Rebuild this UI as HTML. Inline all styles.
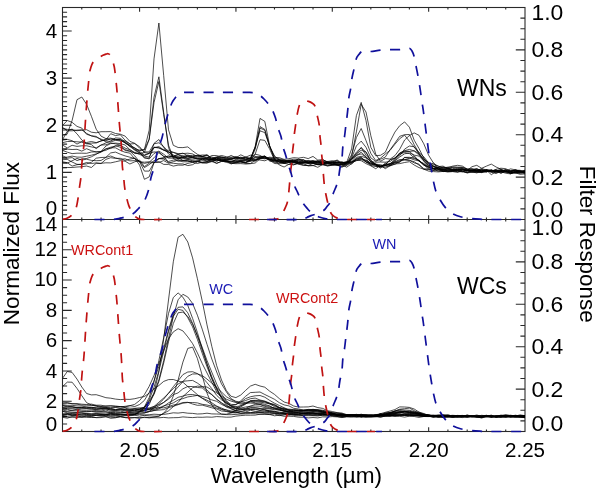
<!DOCTYPE html>
<html><head><meta charset="utf-8"><style>
html,body{margin:0;padding:0;background:#fff;width:600px;height:490px;overflow:hidden}
svg{display:block;will-change:transform}
text{font-family:"Liberation Sans",sans-serif}
</style></head><body>
<svg width="600" height="490" viewBox="0 0 600 490">
<defs><clipPath id="clipAll"><rect x="62.5" y="0" width="462.5" height="490"/></clipPath><clipPath id="clipT"><rect x="62.5" y="7.5" width="462.5" height="212"/></clipPath><clipPath id="clipB"><rect x="62.5" y="219.5" width="462.5" height="212"/></clipPath></defs>
<rect width="600" height="490" fill="#fff"/>
<g fill="none" stroke="#2a2a2a" stroke-width="1.1">
<rect x="62.5" y="7.5" width="462.5" height="424.0"/>
<path d="M62.5 219.5H525.0"/>
<path d="M81.77 7.50L81.77 9.60 M81.77 219.50L81.77 217.40 M81.77 219.50L81.77 221.60 M81.77 431.50L81.77 429.40 M101.04 7.50L101.04 9.60 M101.04 219.50L101.04 217.40 M101.04 219.50L101.04 221.60 M101.04 431.50L101.04 429.40 M120.31 7.50L120.31 9.60 M120.31 219.50L120.31 217.40 M120.31 219.50L120.31 221.60 M120.31 431.50L120.31 429.40 M139.58 7.50L139.58 11.70 M139.58 219.50L139.58 215.30 M139.58 219.50L139.58 223.70 M139.58 431.50L139.58 427.30 M158.85 7.50L158.85 9.60 M158.85 219.50L158.85 217.40 M158.85 219.50L158.85 221.60 M158.85 431.50L158.85 429.40 M178.12 7.50L178.12 9.60 M178.12 219.50L178.12 217.40 M178.12 219.50L178.12 221.60 M178.12 431.50L178.12 429.40 M197.40 7.50L197.40 9.60 M197.40 219.50L197.40 217.40 M197.40 219.50L197.40 221.60 M197.40 431.50L197.40 429.40 M216.67 7.50L216.67 9.60 M216.67 219.50L216.67 217.40 M216.67 219.50L216.67 221.60 M216.67 431.50L216.67 429.40 M235.94 7.50L235.94 11.70 M235.94 219.50L235.94 215.30 M235.94 219.50L235.94 223.70 M235.94 431.50L235.94 427.30 M255.21 7.50L255.21 9.60 M255.21 219.50L255.21 217.40 M255.21 219.50L255.21 221.60 M255.21 431.50L255.21 429.40 M274.48 7.50L274.48 9.60 M274.48 219.50L274.48 217.40 M274.48 219.50L274.48 221.60 M274.48 431.50L274.48 429.40 M293.75 7.50L293.75 9.60 M293.75 219.50L293.75 217.40 M293.75 219.50L293.75 221.60 M293.75 431.50L293.75 429.40 M313.02 7.50L313.02 9.60 M313.02 219.50L313.02 217.40 M313.02 219.50L313.02 221.60 M313.02 431.50L313.02 429.40 M332.29 7.50L332.29 11.70 M332.29 219.50L332.29 215.30 M332.29 219.50L332.29 223.70 M332.29 431.50L332.29 427.30 M351.56 7.50L351.56 9.60 M351.56 219.50L351.56 217.40 M351.56 219.50L351.56 221.60 M351.56 431.50L351.56 429.40 M370.83 7.50L370.83 9.60 M370.83 219.50L370.83 217.40 M370.83 219.50L370.83 221.60 M370.83 431.50L370.83 429.40 M390.10 7.50L390.10 9.60 M390.10 219.50L390.10 217.40 M390.10 219.50L390.10 221.60 M390.10 431.50L390.10 429.40 M409.38 7.50L409.38 9.60 M409.38 219.50L409.38 217.40 M409.38 219.50L409.38 221.60 M409.38 431.50L409.38 429.40 M428.65 7.50L428.65 11.70 M428.65 219.50L428.65 215.30 M428.65 219.50L428.65 223.70 M428.65 431.50L428.65 427.30 M447.92 7.50L447.92 9.60 M447.92 219.50L447.92 217.40 M447.92 219.50L447.92 221.60 M447.92 431.50L447.92 429.40 M467.19 7.50L467.19 9.60 M467.19 219.50L467.19 217.40 M467.19 219.50L467.19 221.60 M467.19 431.50L467.19 429.40 M486.46 7.50L486.46 9.60 M486.46 219.50L486.46 217.40 M486.46 219.50L486.46 221.60 M486.46 431.50L486.46 429.40 M505.73 7.50L505.73 9.60 M505.73 219.50L505.73 217.40 M505.73 219.50L505.73 221.60 M505.73 431.50L505.73 429.40 M62.50 214.79L67.10 214.79 M62.50 210.08L67.10 210.08 M62.50 205.37L67.10 205.37 M62.50 200.66L67.10 200.66 M62.50 195.94L67.10 195.94 M62.50 191.23L67.10 191.23 M62.50 186.52L67.10 186.52 M62.50 181.81L67.10 181.81 M62.50 177.10L67.10 177.10 M62.50 172.39L71.70 172.39 M62.50 167.68L67.10 167.68 M62.50 162.97L67.10 162.97 M62.50 158.26L67.10 158.26 M62.50 153.54L67.10 153.54 M62.50 148.83L67.10 148.83 M62.50 144.12L67.10 144.12 M62.50 139.41L67.10 139.41 M62.50 134.70L67.10 134.70 M62.50 129.99L67.10 129.99 M62.50 125.28L71.70 125.28 M62.50 120.57L67.10 120.57 M62.50 115.86L67.10 115.86 M62.50 111.14L67.10 111.14 M62.50 106.43L67.10 106.43 M62.50 101.72L67.10 101.72 M62.50 97.01L67.10 97.01 M62.50 92.30L67.10 92.30 M62.50 87.59L67.10 87.59 M62.50 82.88L67.10 82.88 M62.50 78.17L71.70 78.17 M62.50 73.46L67.10 73.46 M62.50 68.74L67.10 68.74 M62.50 64.03L67.10 64.03 M62.50 59.32L67.10 59.32 M62.50 54.61L67.10 54.61 M62.50 49.90L67.10 49.90 M62.50 45.19L67.10 45.19 M62.50 40.48L67.10 40.48 M62.50 35.77L67.10 35.77 M62.50 31.06L71.70 31.06 M62.50 26.34L67.10 26.34 M62.50 21.63L67.10 21.63 M62.50 16.92L67.10 16.92 M62.50 12.21L67.10 12.21 M62.50 423.93L67.10 423.93 M62.50 416.36L67.10 416.36 M62.50 408.79L67.10 408.79 M62.50 401.21L71.70 401.21 M62.50 393.64L67.10 393.64 M62.50 386.07L67.10 386.07 M62.50 378.50L67.10 378.50 M62.50 370.93L71.70 370.93 M62.50 363.36L67.10 363.36 M62.50 355.79L67.10 355.79 M62.50 348.21L67.10 348.21 M62.50 340.64L71.70 340.64 M62.50 333.07L67.10 333.07 M62.50 325.50L67.10 325.50 M62.50 317.93L67.10 317.93 M62.50 310.36L71.70 310.36 M62.50 302.79L67.10 302.79 M62.50 295.21L67.10 295.21 M62.50 287.64L67.10 287.64 M62.50 280.07L71.70 280.07 M62.50 272.50L67.10 272.50 M62.50 264.93L67.10 264.93 M62.50 257.36L67.10 257.36 M62.50 249.79L71.70 249.79 M62.50 242.21L67.10 242.21 M62.50 234.64L67.10 234.64 M62.50 227.07L67.10 227.07 M525.00 208.90L520.40 208.90 M525.00 420.90L520.40 420.90 M525.00 198.30L520.40 198.30 M525.00 410.30L520.40 410.30 M525.00 187.70L520.40 187.70 M525.00 399.70L520.40 399.70 M525.00 177.10L515.80 177.10 M525.00 389.10L515.80 389.10 M525.00 166.50L520.40 166.50 M525.00 378.50L520.40 378.50 M525.00 155.90L520.40 155.90 M525.00 367.90L520.40 367.90 M525.00 145.30L520.40 145.30 M525.00 357.30L520.40 357.30 M525.00 134.70L515.80 134.70 M525.00 346.70L515.80 346.70 M525.00 124.10L520.40 124.10 M525.00 336.10L520.40 336.10 M525.00 113.50L520.40 113.50 M525.00 325.50L520.40 325.50 M525.00 102.90L520.40 102.90 M525.00 314.90L520.40 314.90 M525.00 92.30L515.80 92.30 M525.00 304.30L515.80 304.30 M525.00 81.70L520.40 81.70 M525.00 293.70L520.40 293.70 M525.00 71.10L520.40 71.10 M525.00 283.10L520.40 283.10 M525.00 60.50L520.40 60.50 M525.00 272.50L520.40 272.50 M525.00 49.90L515.80 49.90 M525.00 261.90L515.80 261.90 M525.00 39.30L520.40 39.30 M525.00 251.30L520.40 251.30 M525.00 28.70L520.40 28.70 M525.00 240.70L520.40 240.70 M525.00 18.10L520.40 18.10 M525.00 230.10L520.40 230.10"/>
</g>
<g fill="none" stroke="#000" stroke-width="0.7" stroke-linejoin="round">
<g clip-path="url(#clipT)"><path d="M52.9 126.7 57.7 127.0 62.5 128.2 67.3 129.4 72.1 129.6 77.0 130.7 81.8 130.2 86.6 129.7 91.4 132.2 96.2 132.8 101.0 131.7 105.9 131.7 110.7 131.6 115.5 133.5 120.3 134.2 125.1 136.1 129.9 141.4 134.8 143.3 139.6 148.2 144.4 151.9 149.2 151.9 154.0 143.8 158.9 142.8 163.7 146.5 168.5 152.0 173.3 154.9 178.1 158.9 182.9 157.2 187.8 157.0 192.6 157.2 197.4 159.3 202.2 158.5 207.0 159.4 211.8 159.5 216.7 158.0 221.5 160.2 226.3 159.8 231.1 159.2 235.9 161.0 240.8 160.7 245.6 160.7 250.4 160.7 255.2 160.8 260.0 156.9 264.8 155.9 269.7 161.3 274.5 160.5 279.3 161.8 284.1 162.9 288.9 160.3 293.7 161.8 298.6 164.0 303.4 162.8 308.2 162.5 313.0 163.4 317.8 162.8 322.7 163.8 327.5 163.2 332.3 162.7 337.1 165.1 341.9 164.4 346.7 164.7 351.6 161.1 356.4 155.6 361.2 152.2 366.0 156.8 370.8 161.7 375.7 164.0 380.5 166.5 385.3 164.4 390.1 159.7 394.9 158.3 399.7 153.0 404.6 151.2 409.4 151.4 414.2 155.7 419.0 161.1 423.8 164.8 428.6 167.1 433.5 166.6 438.3 169.3 443.1 169.5 447.9 169.0 452.7 169.7 457.6 170.0 462.4 171.1 467.2 170.1 472.0 170.7 476.8 169.2 481.6 169.9 486.5 170.8 491.3 170.2 496.1 171.5 500.9 170.2 505.7 171.4 510.5 171.0 515.4 173.1 520.2 171.6 525.0 173.9 529.8 174.4 534.6 172.8"/><path d="M52.9 130.3 57.7 129.4 62.5 127.4 67.3 130.8 72.1 130.8 77.0 130.1 81.8 129.9 86.6 133.4 91.4 135.9 96.2 137.2 101.0 139.0 105.9 141.9 110.7 142.0 115.5 140.3 120.3 141.0 125.1 140.9 129.9 144.0 134.8 143.6 139.6 146.7 144.4 152.6 149.2 153.2 154.0 147.2 158.9 147.8 163.7 150.1 168.5 151.7 173.3 156.2 178.1 154.4 182.9 157.3 187.8 155.0 192.6 156.8 197.4 155.4 202.2 156.3 207.0 158.2 211.8 155.5 216.7 155.6 221.5 157.3 226.3 157.8 231.1 157.9 235.9 158.9 240.8 157.1 245.6 159.1 250.4 158.8 255.2 159.1 260.0 157.9 264.8 158.9 269.7 157.7 274.5 160.2 279.3 159.6 284.1 160.9 288.9 161.9 293.7 161.8 298.6 162.4 303.4 162.1 308.2 162.8 313.0 163.0 317.8 164.4 322.7 164.1 327.5 161.9 332.3 164.6 337.1 165.3 341.9 164.2 346.7 163.0 351.6 164.1 356.4 158.4 361.2 157.1 366.0 161.8 370.8 163.5 375.7 166.3 380.5 166.7 385.3 167.4 390.1 165.3 394.9 164.4 399.7 161.3 404.6 159.6 409.4 158.4 414.2 156.6 419.0 161.1 423.8 163.5 428.6 166.8 433.5 169.0 438.3 170.2 443.1 169.5 447.9 170.7 452.7 170.7 457.6 170.6 462.4 169.5 467.2 170.1 472.0 170.5 476.8 171.5 481.6 172.5 486.5 170.1 491.3 170.2 496.1 171.4 500.9 170.8 505.7 170.6 510.5 170.7 515.4 170.7 520.2 172.2 525.0 170.2 529.8 173.2 534.6 171.1"/><path d="M52.9 131.4 57.7 130.1 62.5 125.5 67.3 120.5 72.1 122.3 77.0 126.4 81.8 128.1 86.6 134.3 91.4 135.8 96.2 136.4 101.0 139.9 105.9 140.8 110.7 138.8 115.5 139.2 120.3 140.6 125.1 142.7 129.9 146.6 134.8 149.8 139.6 150.1 144.4 149.7 149.2 130.2 154.0 58.9 158.9 23.0 163.7 75.7 168.5 129.8 173.3 145.3 178.1 147.5 182.9 147.6 187.8 146.9 192.6 150.9 197.4 154.3 202.2 156.3 207.0 155.4 211.8 159.7 216.7 158.1 221.5 159.8 226.3 160.5 231.1 162.7 235.9 162.4 240.8 161.3 245.6 162.3 250.4 160.3 255.2 146.6 260.0 118.4 264.8 121.4 269.7 146.0 274.5 159.5 279.3 165.0 284.1 167.0 288.9 164.3 293.7 162.6 298.6 164.1 303.4 165.5 308.2 165.4 313.0 163.5 317.8 164.7 322.7 164.9 327.5 165.2 332.3 165.3 337.1 164.6 341.9 164.7 346.7 162.4 351.6 148.9 356.4 115.5 361.2 102.4 366.0 120.6 370.8 147.3 375.7 155.7 380.5 155.3 385.3 152.3 390.1 141.5 394.9 132.1 399.7 125.7 404.6 121.9 409.4 127.2 414.2 140.2 419.0 148.5 423.8 158.1 428.6 164.0 433.5 168.4 438.3 169.0 443.1 169.6 447.9 168.5 452.7 169.6 457.6 170.1 462.4 168.7 467.2 171.0 472.0 171.1 476.8 172.7 481.6 169.4 486.5 170.2 491.3 170.4 496.1 170.9 500.9 171.6 505.7 171.7 510.5 172.4 515.4 172.5 520.2 172.4 525.0 171.1 529.8 172.3 534.6 173.1"/><path d="M52.9 135.3 57.7 136.7 62.5 135.3 67.3 133.8 72.1 120.5 77.0 99.7 81.8 97.0 86.6 104.3 91.4 116.3 96.2 129.2 101.0 136.1 105.9 138.6 110.7 138.1 115.5 139.7 120.3 139.3 125.1 143.1 129.9 145.3 134.8 150.4 139.6 152.8 144.4 157.5 149.2 159.0 154.0 153.5 158.9 151.1 163.7 154.2 168.5 158.1 173.3 158.2 178.1 157.6 182.9 160.3 187.8 160.6 192.6 161.8 197.4 160.7 202.2 162.6 207.0 162.8 211.8 160.6 216.7 163.2 221.5 161.5 226.3 161.3 231.1 163.0 235.9 163.0 240.8 161.4 245.6 163.6 250.4 163.7 255.2 163.0 260.0 158.8 264.8 157.4 269.7 160.1 274.5 163.5 279.3 163.8 284.1 163.4 288.9 162.5 293.7 162.9 298.6 162.4 303.4 162.3 308.2 162.8 313.0 162.5 317.8 162.5 322.7 163.0 327.5 162.7 332.3 161.5 337.1 163.0 341.9 163.8 346.7 165.1 351.6 158.8 356.4 152.1 361.2 147.7 366.0 152.1 370.8 160.3 375.7 164.9 380.5 167.2 385.3 165.3 390.1 164.0 394.9 159.4 399.7 153.1 404.6 150.6 409.4 149.4 414.2 150.9 419.0 153.6 423.8 158.7 428.6 164.1 433.5 165.8 438.3 168.9 443.1 167.4 447.9 167.9 452.7 168.1 457.6 170.0 462.4 169.1 467.2 170.0 472.0 170.5 476.8 170.6 481.6 171.8 486.5 172.1 491.3 170.0 496.1 171.2 500.9 171.0 505.7 170.4 510.5 173.4 515.4 172.6 520.2 171.8 525.0 171.8 529.8 172.8 534.6 171.5"/><path d="M52.9 137.2 57.7 139.6 62.5 140.2 67.3 139.4 72.1 140.7 77.0 144.1 81.8 141.6 86.6 142.5 91.4 141.5 96.2 142.6 101.0 141.0 105.9 139.8 110.7 133.7 115.5 135.6 120.3 134.7 125.1 140.3 129.9 143.8 134.8 149.4 139.6 152.6 144.4 158.1 149.2 158.2 154.0 143.4 158.9 139.5 163.7 147.6 168.5 153.9 173.3 156.5 178.1 157.2 182.9 157.8 187.8 158.2 192.6 157.8 197.4 158.6 202.2 159.0 207.0 157.8 211.8 156.9 216.7 159.5 221.5 158.0 226.3 158.8 231.1 159.2 235.9 157.4 240.8 159.0 245.6 157.0 250.4 158.2 255.2 147.8 260.0 130.8 264.8 132.6 269.7 146.1 274.5 156.8 279.3 158.8 284.1 160.0 288.9 161.3 293.7 160.4 298.6 160.4 303.4 159.7 308.2 161.8 313.0 161.1 317.8 163.2 322.7 161.1 327.5 163.2 332.3 164.3 337.1 162.9 341.9 161.9 346.7 163.9 351.6 158.1 356.4 145.9 361.2 141.1 366.0 147.3 370.8 157.8 375.7 161.3 380.5 159.2 385.3 157.1 390.1 149.7 394.9 143.1 399.7 136.3 404.6 134.7 409.4 134.5 414.2 144.7 419.0 153.1 423.8 161.0 428.6 165.8 433.5 168.4 438.3 167.7 443.1 171.2 447.9 172.0 452.7 171.6 457.6 172.1 462.4 170.1 467.2 170.2 472.0 172.2 476.8 172.8 481.6 171.9 486.5 170.2 491.3 174.7 496.1 171.4 500.9 173.2 505.7 171.2 510.5 173.5 515.4 172.9 520.2 174.3 525.0 173.9 529.8 171.6 534.6 172.3"/><path d="M52.9 140.5 57.7 141.3 62.5 142.7 67.3 141.5 72.1 141.4 77.0 141.8 81.8 142.1 86.6 143.8 91.4 143.1 96.2 143.0 101.0 140.9 105.9 139.1 110.7 139.9 115.5 139.7 120.3 139.5 125.1 142.7 129.9 146.2 134.8 148.1 139.6 150.7 144.4 149.6 149.2 139.1 154.0 97.3 158.9 76.8 163.7 112.5 168.5 147.5 173.3 158.4 178.1 161.3 182.9 160.6 187.8 160.9 192.6 162.4 197.4 161.0 202.2 162.5 207.0 161.8 211.8 161.5 216.7 163.4 221.5 161.2 226.3 161.1 231.1 161.5 235.9 161.8 240.8 161.9 245.6 162.6 250.4 160.4 255.2 149.2 260.0 126.6 264.8 129.4 269.7 146.3 274.5 158.7 279.3 162.4 284.1 163.2 288.9 162.4 293.7 164.8 298.6 162.8 303.4 163.1 308.2 163.2 313.0 163.3 317.8 164.7 322.7 164.6 327.5 164.0 332.3 164.6 337.1 165.1 341.9 167.0 346.7 164.1 351.6 156.4 356.4 131.8 361.2 104.3 366.0 112.0 370.8 135.6 375.7 154.1 380.5 161.3 385.3 158.5 390.1 159.1 394.9 155.7 399.7 149.3 404.6 140.0 409.4 135.5 414.2 132.9 419.0 135.3 423.8 143.8 428.6 155.2 433.5 163.1 438.3 169.1 443.1 171.1 447.9 171.1 452.7 171.5 457.6 171.9 462.4 171.1 467.2 172.9 472.0 172.2 476.8 171.4 481.6 171.5 486.5 171.0 491.3 171.8 496.1 172.5 500.9 171.8 505.7 173.2 510.5 173.9 515.4 171.6 520.2 172.3 525.0 171.9 529.8 174.0 534.6 172.6"/><path d="M52.9 143.2 57.7 142.5 62.5 139.7 67.3 131.2 72.1 129.0 77.0 133.8 81.8 140.0 86.6 143.5 91.4 144.6 96.2 148.6 101.0 145.1 105.9 142.9 110.7 141.1 115.5 137.9 120.3 138.3 125.1 141.8 129.9 145.5 134.8 147.8 139.6 151.6 144.4 154.9 149.2 153.3 154.0 147.4 158.9 147.9 163.7 150.2 168.5 152.4 173.3 152.3 178.1 154.3 182.9 153.1 187.8 155.9 192.6 155.4 197.4 155.8 202.2 155.0 207.0 155.1 211.8 158.0 216.7 157.7 221.5 156.8 226.3 158.1 231.1 159.3 235.9 157.0 240.8 157.8 245.6 158.0 250.4 159.2 255.2 157.1 260.0 157.3 264.8 156.3 269.7 159.7 274.5 160.6 279.3 160.0 284.1 161.2 288.9 160.0 293.7 160.7 298.6 162.2 303.4 161.4 308.2 162.0 313.0 161.0 317.8 162.8 322.7 162.9 327.5 161.5 332.3 160.7 337.1 161.2 341.9 163.4 346.7 163.0 351.6 159.2 356.4 155.3 361.2 153.9 366.0 157.1 370.8 161.8 375.7 165.3 380.5 166.2 385.3 164.6 390.1 159.8 394.9 157.8 399.7 154.0 404.6 152.5 409.4 153.6 414.2 157.8 419.0 160.7 423.8 165.3 428.6 167.0 433.5 168.9 438.3 167.3 443.1 168.9 447.9 170.0 452.7 169.8 457.6 169.9 462.4 169.2 467.2 171.8 472.0 171.5 476.8 171.1 481.6 168.3 486.5 170.2 491.3 171.5 496.1 170.9 500.9 169.8 505.7 172.4 510.5 172.8 515.4 171.4 520.2 172.4 525.0 172.5 529.8 173.9 534.6 171.6"/><path d="M52.9 143.6 57.7 144.9 62.5 145.0 67.3 147.9 72.1 145.3 77.0 146.4 81.8 145.8 86.6 145.8 91.4 146.9 96.2 147.9 101.0 145.0 105.9 144.8 110.7 143.0 115.5 143.8 120.3 145.2 125.1 150.7 129.9 151.1 134.8 155.9 139.6 161.9 144.4 171.1 149.2 171.1 154.0 162.8 158.9 158.6 163.7 158.4 168.5 157.4 173.3 156.5 178.1 158.3 182.9 156.2 187.8 158.5 192.6 157.0 197.4 157.7 202.2 158.3 207.0 158.4 211.8 159.2 216.7 159.6 221.5 161.0 226.3 159.7 231.1 158.1 235.9 158.3 240.8 159.0 245.6 159.7 250.4 161.0 255.2 157.5 260.0 156.4 264.8 156.6 269.7 159.2 274.5 160.3 279.3 161.3 284.1 161.1 288.9 162.2 293.7 161.5 298.6 158.8 303.4 161.3 308.2 161.6 313.0 160.8 317.8 161.0 322.7 163.3 327.5 162.7 332.3 161.9 337.1 162.9 341.9 163.4 346.7 161.9 351.6 162.4 356.4 157.3 361.2 156.3 366.0 157.8 370.8 165.6 375.7 166.4 380.5 166.8 385.3 165.5 390.1 164.7 394.9 162.1 399.7 162.5 404.6 157.4 409.4 157.3 414.2 158.6 419.0 160.0 423.8 164.8 428.6 169.0 433.5 169.1 438.3 171.3 443.1 170.9 447.9 170.1 452.7 170.4 457.6 169.1 462.4 171.1 467.2 172.6 472.0 171.9 476.8 172.1 481.6 172.6 486.5 170.9 491.3 172.2 496.1 173.6 500.9 171.0 505.7 171.9 510.5 171.5 515.4 171.9 520.2 171.4 525.0 172.2 529.8 171.0 534.6 172.0"/><path d="M52.9 147.6 57.7 147.9 62.5 150.1 67.3 149.1 72.1 149.5 77.0 149.3 81.8 151.1 86.6 148.7 91.4 150.7 96.2 152.0 101.0 151.7 105.9 148.9 110.7 147.2 115.5 146.2 120.3 145.2 125.1 148.1 129.9 149.8 134.8 153.3 139.6 153.6 144.4 152.4 149.2 139.3 154.0 102.7 158.9 81.5 163.7 114.5 168.5 145.2 173.3 157.5 178.1 158.6 182.9 158.2 187.8 159.2 192.6 159.2 197.4 158.7 202.2 160.4 207.0 159.8 211.8 158.7 216.7 158.2 221.5 158.5 226.3 160.2 231.1 158.9 235.9 157.6 240.8 158.1 245.6 159.0 250.4 158.7 255.2 146.7 260.0 128.1 264.8 130.2 269.7 146.8 274.5 155.9 279.3 160.5 284.1 160.2 288.9 162.2 293.7 161.1 298.6 162.9 303.4 162.8 308.2 160.4 313.0 162.4 317.8 164.0 322.7 163.7 327.5 163.5 332.3 162.8 337.1 164.7 341.9 166.0 346.7 163.1 351.6 154.9 356.4 137.5 361.2 128.5 366.0 140.5 370.8 153.3 375.7 160.5 380.5 158.2 385.3 154.0 390.1 150.3 394.9 144.3 399.7 138.7 404.6 135.2 409.4 141.3 414.2 147.0 419.0 153.9 423.8 159.9 428.6 165.2 433.5 166.6 438.3 168.3 443.1 168.3 447.9 168.8 452.7 170.1 457.6 169.1 462.4 168.3 467.2 170.4 472.0 169.8 476.8 169.1 481.6 171.0 486.5 169.9 491.3 171.4 496.1 169.3 500.9 168.2 505.7 168.7 510.5 171.2 515.4 170.4 520.2 171.2 525.0 171.4 529.8 170.0 534.6 173.2"/><path d="M52.9 149.6 57.7 151.3 62.5 150.4 67.3 152.2 72.1 153.6 77.0 153.2 81.8 153.2 86.6 153.3 91.4 152.0 96.2 151.8 101.0 151.6 105.9 146.0 110.7 143.6 115.5 143.1 120.3 143.6 125.1 145.0 129.9 149.7 134.8 152.5 139.6 154.5 144.4 156.1 149.2 157.1 154.0 147.7 158.9 146.6 163.7 149.9 168.5 150.3 173.3 152.4 178.1 153.6 182.9 153.6 187.8 153.2 192.6 153.9 197.4 156.6 202.2 156.6 207.0 157.3 211.8 159.6 216.7 159.6 221.5 160.9 226.3 162.4 231.1 163.3 235.9 163.7 240.8 163.6 245.6 164.0 250.4 163.5 255.2 160.3 260.0 158.4 264.8 157.7 269.7 159.5 274.5 161.4 279.3 159.9 284.1 163.0 288.9 161.2 293.7 162.2 298.6 159.8 303.4 159.8 308.2 163.4 313.0 162.3 317.8 160.9 322.7 161.1 327.5 161.4 332.3 162.6 337.1 162.4 341.9 162.4 346.7 162.8 351.6 158.2 356.4 153.7 361.2 147.5 366.0 155.2 370.8 160.3 375.7 164.8 380.5 166.2 385.3 164.3 390.1 163.9 394.9 160.3 399.7 155.8 404.6 149.1 409.4 146.0 414.2 146.8 419.0 152.4 423.8 156.8 428.6 162.8 433.5 166.3 438.3 167.3 443.1 167.1 447.9 167.6 452.7 166.1 457.6 165.3 462.4 166.1 467.2 169.0 472.0 168.5 476.8 170.7 481.6 170.2 486.5 171.7 491.3 170.6 496.1 170.8 500.9 171.8 505.7 169.4 510.5 171.3 515.4 170.0 520.2 171.0 525.0 172.8 529.8 172.7 534.6 172.0"/><path d="M52.9 153.3 57.7 154.3 62.5 155.7 67.3 158.2 72.1 157.6 77.0 160.6 81.8 158.9 86.6 158.5 91.4 156.8 96.2 154.3 101.0 151.4 105.9 150.3 110.7 147.8 115.5 147.8 120.3 150.4 125.1 152.3 129.9 153.1 134.8 159.0 139.6 161.4 144.4 167.6 149.2 164.7 154.0 160.7 158.9 158.7 163.7 157.5 168.5 155.8 173.3 157.0 178.1 156.6 182.9 157.7 187.8 156.1 192.6 156.9 197.4 155.7 202.2 156.6 207.0 154.7 211.8 158.5 216.7 156.8 221.5 155.5 226.3 156.7 231.1 157.2 235.9 156.6 240.8 158.3 245.6 157.2 250.4 155.2 255.2 156.4 260.0 157.9 264.8 158.3 269.7 159.4 274.5 159.3 279.3 161.9 284.1 162.3 288.9 161.2 293.7 161.7 298.6 163.6 303.4 164.9 308.2 165.8 313.0 165.5 317.8 167.3 322.7 164.4 327.5 166.1 332.3 165.1 337.1 163.9 341.9 164.8 346.7 167.2 351.6 163.7 356.4 160.0 361.2 160.7 366.0 163.6 370.8 165.8 375.7 168.7 380.5 165.5 385.3 168.7 390.1 165.7 394.9 162.5 399.7 160.4 404.6 159.3 409.4 160.2 414.2 162.9 419.0 164.1 423.8 169.6 428.6 168.9 433.5 170.5 438.3 170.0 443.1 170.2 447.9 171.5 452.7 171.3 457.6 169.7 462.4 169.9 467.2 170.4 472.0 166.7 476.8 165.3 481.6 168.3 486.5 166.1 491.3 164.1 496.1 167.0 500.9 169.1 505.7 171.0 510.5 172.5 515.4 172.8 520.2 173.6 525.0 172.5 529.8 173.9 534.6 174.1"/><path d="M52.9 157.3 57.7 156.4 62.5 157.6 67.3 157.1 72.1 156.1 77.0 157.1 81.8 157.2 86.6 156.2 91.4 155.2 96.2 153.9 101.0 152.2 105.9 148.9 110.7 148.5 115.5 145.6 120.3 147.3 125.1 149.6 129.9 151.3 134.8 153.0 139.6 153.1 144.4 155.5 149.2 153.5 154.0 151.9 158.9 152.3 163.7 156.1 168.5 162.7 173.3 163.3 178.1 163.8 182.9 163.9 187.8 165.6 192.6 164.7 197.4 161.8 202.2 163.0 207.0 163.0 211.8 161.6 216.7 159.9 221.5 160.7 226.3 161.6 231.1 161.1 235.9 160.5 240.8 161.8 245.6 162.3 250.4 160.1 255.2 154.1 260.0 139.7 264.8 140.4 269.7 149.2 274.5 160.0 279.3 161.2 284.1 161.5 288.9 160.9 293.7 160.3 298.6 161.9 303.4 162.3 308.2 163.2 313.0 162.5 317.8 161.2 322.7 161.9 327.5 163.3 332.3 162.8 337.1 162.6 341.9 162.3 346.7 163.0 351.6 159.5 356.4 154.1 361.2 150.2 366.0 152.0 370.8 161.7 375.7 162.2 380.5 162.0 385.3 162.2 390.1 161.5 394.9 158.3 399.7 154.6 404.6 151.2 409.4 151.4 414.2 150.9 419.0 155.1 423.8 159.2 428.6 162.4 433.5 164.6 438.3 165.9 443.1 168.2 447.9 167.1 452.7 167.2 457.6 167.4 462.4 167.4 467.2 169.2 472.0 169.4 476.8 168.6 481.6 171.1 486.5 169.7 491.3 170.6 496.1 170.7 500.9 172.3 505.7 171.6 510.5 171.0 515.4 170.2 520.2 170.3 525.0 171.7 529.8 172.0 534.6 172.9"/><path d="M52.9 158.3 57.7 159.8 62.5 159.7 67.3 159.4 72.1 162.0 77.0 164.3 81.8 164.5 86.6 163.9 91.4 162.3 96.2 158.2 101.0 157.5 105.9 157.3 110.7 152.9 115.5 152.1 120.3 154.2 125.1 155.9 129.9 157.2 134.8 158.5 139.6 165.1 144.4 179.3 149.2 176.9 154.0 162.8 158.9 158.6 163.7 159.1 168.5 161.5 173.3 160.1 178.1 159.8 182.9 160.6 187.8 159.4 192.6 160.8 197.4 161.5 202.2 159.2 207.0 160.1 211.8 160.7 216.7 160.1 221.5 160.1 226.3 161.0 231.1 164.0 235.9 162.3 240.8 162.1 245.6 162.6 250.4 161.3 255.2 159.6 260.0 160.0 264.8 160.8 269.7 158.7 274.5 162.0 279.3 163.0 284.1 161.6 288.9 161.4 293.7 162.6 298.6 161.1 303.4 162.4 308.2 162.9 313.0 161.8 317.8 161.4 322.7 163.2 327.5 162.5 332.3 163.2 337.1 160.5 341.9 164.5 346.7 162.4 351.6 162.8 356.4 160.4 361.2 158.6 366.0 160.7 370.8 162.9 375.7 165.1 380.5 166.2 385.3 165.6 390.1 163.4 394.9 161.8 399.7 159.5 404.6 160.1 409.4 160.4 414.2 161.7 419.0 165.1 423.8 168.6 428.6 169.5 433.5 170.5 438.3 167.7 443.1 170.4 447.9 168.5 452.7 169.3 457.6 168.3 462.4 169.2 467.2 170.5 472.0 170.7 476.8 170.6 481.6 170.6 486.5 171.5 491.3 171.1 496.1 169.6 500.9 173.2 505.7 171.3 510.5 172.7 515.4 171.7 520.2 171.1 525.0 172.2 529.8 171.5 534.6 174.1"/><path d="M52.9 160.2 57.7 162.5 62.5 161.8 67.3 162.7 72.1 166.1 77.0 164.7 81.8 164.2 86.6 162.5 91.4 163.5 96.2 162.9 101.0 163.6 105.9 159.4 110.7 157.7 115.5 158.4 120.3 158.3 125.1 160.5 129.9 159.1 134.8 158.2 139.6 161.6 144.4 163.4 149.2 162.3 154.0 157.8 158.9 152.6 163.7 156.5 168.5 156.7 173.3 156.1 178.1 154.9 182.9 155.8 187.8 156.2 192.6 157.7 197.4 158.6 202.2 157.6 207.0 158.7 211.8 159.7 216.7 160.0 221.5 159.6 226.3 161.4 231.1 161.2 235.9 161.9 240.8 160.2 245.6 160.3 250.4 158.7 255.2 161.2 260.0 157.9 264.8 156.7 269.7 160.4 274.5 162.2 279.3 160.8 284.1 163.2 288.9 164.4 293.7 164.8 298.6 163.4 303.4 163.7 308.2 165.7 313.0 165.6 317.8 164.1 322.7 164.2 327.5 165.6 332.3 164.4 337.1 164.6 341.9 167.1 346.7 165.4 351.6 162.6 356.4 159.0 361.2 158.7 366.0 160.2 370.8 163.2 375.7 164.1 380.5 168.3 385.3 162.9 390.1 165.5 394.9 160.9 399.7 157.0 404.6 153.8 409.4 152.9 414.2 155.1 419.0 156.1 423.8 161.1 428.6 166.3 433.5 163.0 438.3 166.6 443.1 166.1 447.9 169.3 452.7 167.1 457.6 167.2 462.4 167.4 467.2 169.2 472.0 170.6 476.8 169.8 481.6 172.1 486.5 171.7 491.3 170.1 496.1 171.4 500.9 170.7 505.7 170.9 510.5 168.9 515.4 169.8 520.2 171.4 525.0 170.3 529.8 172.5 534.6 172.2"/><path d="M52.9 163.1 57.7 164.6 62.5 162.8 67.3 163.1 72.1 160.8 77.0 158.4 81.8 160.1 86.6 159.2 91.4 160.4 96.2 160.7 101.0 160.5 105.9 157.4 110.7 156.0 115.5 157.9 120.3 159.4 125.1 158.8 129.9 160.9 134.8 160.6 139.6 161.8 144.4 162.2 149.2 161.8 154.0 162.2 158.9 161.7 163.7 164.4 168.5 164.4 173.3 166.1 178.1 165.1 182.9 165.2 187.8 163.4 192.6 162.3 197.4 163.5 202.2 162.2 207.0 161.6 211.8 159.1 216.7 157.4 221.5 157.5 226.3 158.1 231.1 155.4 235.9 157.8 240.8 154.8 245.6 157.2 250.4 159.6 255.2 154.1 260.0 155.4 264.8 158.3 269.7 157.2 274.5 157.8 279.3 157.6 284.1 159.4 288.9 158.7 293.7 157.7 298.6 158.1 303.4 157.3 308.2 158.6 313.0 156.4 317.8 160.1 322.7 159.6 327.5 162.3 332.3 162.1 337.1 160.0 341.9 162.8 346.7 161.6 351.6 161.6 356.4 160.7 361.2 159.5 366.0 161.8 370.8 164.2 375.7 164.2 380.5 164.7 385.3 166.0 390.1 165.9 394.9 163.9 399.7 163.6 404.6 162.5 409.4 161.7 414.2 165.0 419.0 167.6 423.8 169.2 428.6 171.1 433.5 171.6 438.3 171.9 443.1 171.4 447.9 171.6 452.7 170.5 457.6 171.8 462.4 171.7 467.2 172.8 472.0 169.9 476.8 171.2 481.6 170.0 486.5 171.1 491.3 170.5 496.1 172.4 500.9 171.5 505.7 169.6 510.5 173.7 515.4 171.4 520.2 170.9 525.0 172.4 529.8 172.1 534.6 171.7"/><path d="M52.9 167.4 57.7 166.3 62.5 167.7 67.3 167.5 72.1 167.5 77.0 167.0 81.8 166.7 86.6 166.0 91.4 167.5 96.2 163.3 101.0 163.3 105.9 162.8 110.7 162.9 115.5 161.8 120.3 160.7 125.1 161.2 129.9 164.0 134.8 161.8 139.6 160.1 144.4 166.6 149.2 163.2 154.0 162.4 158.9 162.4 163.7 160.6 168.5 163.2 173.3 161.7 178.1 160.2 182.9 161.8 187.8 161.8 192.6 161.0 197.4 161.4 202.2 159.0 207.0 161.4 211.8 159.3 216.7 161.4 221.5 159.1 226.3 159.7 231.1 162.1 235.9 159.2 240.8 160.4 245.6 159.9 250.4 157.8 255.2 160.0 260.0 158.7 264.8 156.2 269.7 158.9 274.5 158.2 279.3 159.8 284.1 161.2 288.9 160.5 293.7 159.2 298.6 159.6 303.4 160.7 308.2 160.8 313.0 161.1 317.8 161.9 322.7 159.6 327.5 162.0 332.3 163.6 337.1 163.2 341.9 162.3 346.7 162.5 351.6 162.0 356.4 159.4 361.2 157.5 366.0 162.1 370.8 165.0 375.7 164.4 380.5 166.3 385.3 165.3 390.1 163.8 394.9 163.1 399.7 161.6 404.6 157.4 409.4 158.0 414.2 159.9 419.0 160.9 423.8 164.0 428.6 167.8 433.5 168.3 438.3 169.4 443.1 171.7 447.9 170.0 452.7 170.3 457.6 170.5 462.4 171.9 467.2 170.6 472.0 170.4 476.8 170.3 481.6 171.7 486.5 169.9 491.3 172.0 496.1 171.0 500.9 169.5 505.7 171.7 510.5 171.6 515.4 170.0 520.2 171.7 525.0 171.7 529.8 171.2 534.6 170.4"/></g>
<g clip-path="url(#clipB)"><path d="M52.9 396.7 57.7 388.3 62.5 378.3 67.3 371.5 72.1 372.4 77.0 379.1 81.8 387.0 86.6 393.5 91.4 394.9 96.2 394.7 101.0 396.1 105.9 397.7 110.7 398.2 115.5 399.1 120.3 399.6 125.1 399.3 129.9 399.4 134.8 398.7 139.6 397.5 144.4 396.5 149.2 393.2 154.0 388.9 158.9 385.5 163.7 381.4 168.5 379.6 173.3 379.5 178.1 381.1 182.9 382.2 187.8 386.6 192.6 390.5 197.4 394.6 202.2 398.3 207.0 401.5 211.8 404.8 216.7 406.4 221.5 409.1 226.3 409.8 231.1 411.0 235.9 411.1 240.8 411.5 245.6 410.1 250.4 409.5 255.2 409.4 260.0 410.6 264.8 409.7 269.7 410.9 274.5 411.6 279.3 412.1 284.1 412.7 288.9 412.8 293.7 413.7 298.6 413.6 303.4 413.0 308.2 413.0 313.0 413.4 317.8 413.7 322.7 414.1 327.5 414.2 332.3 414.1 337.1 415.6 341.9 414.7 346.7 415.2 351.6 416.0 356.4 415.5 361.2 416.6 366.0 416.7 370.8 416.5 375.7 416.0 380.5 415.9 385.3 415.8 390.1 415.2 394.9 415.9 399.7 414.5 404.6 415.3 409.4 415.1 414.2 415.3 419.0 416.0 423.8 416.5 428.6 416.6 433.5 416.3 438.3 416.1 443.1 416.1 447.9 416.9 452.7 416.8 457.6 416.9 462.4 416.2 467.2 417.4 472.0 415.9 476.8 416.7 481.6 416.9 486.5 416.4 491.3 416.1 496.1 416.4 500.9 416.1 505.7 416.5 510.5 416.0 515.4 416.0 520.2 416.7 525.0 416.0 529.8 416.6 534.6 416.6"/><path d="M52.9 401.8 57.7 395.2 62.5 386.6 67.3 382.1 72.1 382.2 77.0 388.4 81.8 395.7 86.6 402.7 91.4 404.9 96.2 406.1 101.0 407.6 105.9 407.4 110.7 408.7 115.5 407.5 120.3 408.3 125.1 408.0 129.9 409.6 134.8 408.8 139.6 409.4 144.4 409.1 149.2 409.9 154.0 409.5 158.9 407.6 163.7 407.9 168.5 406.5 173.3 405.0 178.1 404.2 182.9 402.5 187.8 402.3 192.6 404.0 197.4 405.3 202.2 405.1 207.0 406.4 211.8 407.8 216.7 409.0 221.5 411.0 226.3 411.5 231.1 412.7 235.9 412.9 240.8 411.6 245.6 412.0 250.4 410.3 255.2 411.3 260.0 411.8 264.8 411.5 269.7 411.5 274.5 412.5 279.3 413.8 284.1 413.4 288.9 413.2 293.7 414.2 298.6 414.3 303.4 413.5 308.2 413.9 313.0 414.5 317.8 414.3 322.7 414.7 327.5 414.6 332.3 415.0 337.1 414.8 341.9 415.2 346.7 416.4 351.6 415.6 356.4 415.4 361.2 415.7 366.0 415.4 370.8 416.2 375.7 416.3 380.5 415.3 385.3 416.0 390.1 416.2 394.9 414.5 399.7 415.1 404.6 414.8 409.4 415.5 414.2 415.7 419.0 416.0 423.8 416.0 428.6 416.0 433.5 417.3 438.3 416.0 443.1 416.9 447.9 416.9 452.7 416.1 457.6 416.4 462.4 417.1 467.2 415.6 472.0 416.8 476.8 416.3 481.6 416.3 486.5 415.8 491.3 416.7 496.1 416.0 500.9 416.8 505.7 416.0 510.5 416.8 515.4 416.6 520.2 415.6 525.0 416.4 529.8 416.5 534.6 415.5"/><path d="M52.9 409.9 57.7 410.6 62.5 410.0 67.3 411.1 72.1 410.2 77.0 410.3 81.8 411.3 86.6 411.5 91.4 411.3 96.2 411.5 101.0 412.1 105.9 411.6 110.7 412.9 115.5 412.4 120.3 412.5 125.1 412.6 129.9 412.5 134.8 413.1 139.6 411.7 144.4 409.9 149.2 404.6 154.0 393.1 158.9 371.8 163.7 338.9 168.5 300.0 173.3 261.8 178.1 237.3 182.9 234.3 187.8 242.0 192.6 257.9 197.4 278.7 202.2 300.9 207.0 324.9 211.8 346.4 216.7 365.7 221.5 380.0 226.3 390.5 231.1 396.3 235.9 397.6 240.8 395.0 245.6 390.4 250.4 386.1 255.2 384.3 260.0 386.0 264.8 387.2 269.7 391.2 274.5 394.4 279.3 398.6 284.1 402.0 288.9 403.4 293.7 406.0 298.6 407.1 303.4 407.0 308.2 406.9 313.0 406.0 317.8 407.6 322.7 408.4 327.5 410.7 332.3 411.5 337.1 412.6 341.9 413.0 346.7 414.8 351.6 414.6 356.4 415.0 361.2 415.8 366.0 415.3 370.8 415.3 375.7 415.8 380.5 413.7 385.3 412.3 390.1 411.0 394.9 409.6 399.7 406.9 404.6 407.0 409.4 407.4 414.2 409.0 419.0 412.1 423.8 413.5 428.6 415.4 433.5 416.1 438.3 416.4 443.1 416.5 447.9 416.0 452.7 416.4 457.6 416.5 462.4 416.5 467.2 416.2 472.0 416.7 476.8 416.5 481.6 416.3 486.5 416.4 491.3 416.2 496.1 416.4 500.9 415.1 505.7 415.4 510.5 415.8 515.4 416.0 520.2 414.9 525.0 415.7 529.8 415.8 534.6 415.6"/><path d="M52.9 413.9 57.7 413.6 62.5 414.4 67.3 413.6 72.1 415.1 77.0 414.5 81.8 415.4 86.6 414.3 91.4 415.4 96.2 415.4 101.0 415.1 105.9 415.1 110.7 416.3 115.5 416.1 120.3 416.6 125.1 415.8 129.9 415.5 134.8 414.5 139.6 412.2 144.4 406.9 149.2 397.5 154.0 381.8 158.9 360.4 163.7 337.5 168.5 313.5 173.3 297.5 178.1 292.9 182.9 297.2 187.8 305.5 192.6 318.4 197.4 332.5 202.2 348.4 207.0 363.6 211.8 376.7 216.7 387.9 221.5 396.9 226.3 401.5 231.1 404.4 235.9 404.6 240.8 402.0 245.6 398.6 250.4 396.8 255.2 395.8 260.0 395.5 264.8 397.2 269.7 400.4 274.5 403.2 279.3 405.5 284.1 407.7 288.9 409.8 293.7 410.0 298.6 410.9 303.4 410.9 308.2 409.9 313.0 410.9 317.8 411.1 322.7 411.6 327.5 412.7 332.3 414.3 337.1 415.1 341.9 416.2 346.7 415.5 351.6 416.2 356.4 417.1 361.2 416.6 366.0 416.2 370.8 416.1 375.7 415.0 380.5 414.4 385.3 414.1 390.1 412.3 394.9 411.2 399.7 409.2 404.6 408.7 409.4 408.1 414.2 410.6 419.0 413.3 423.8 414.2 428.6 415.0 433.5 416.3 438.3 416.4 443.1 416.3 447.9 416.1 452.7 416.3 457.6 416.7 462.4 415.9 467.2 416.5 472.0 416.5 476.8 416.9 481.6 416.7 486.5 416.0 491.3 417.1 496.1 416.4 500.9 416.0 505.7 416.6 510.5 416.3 515.4 416.9 520.2 415.8 525.0 415.9 529.8 416.3 534.6 417.3"/><path d="M52.9 406.5 57.7 405.9 62.5 405.8 67.3 406.8 72.1 406.7 77.0 407.8 81.8 407.9 86.6 408.2 91.4 408.3 96.2 409.5 101.0 408.7 105.9 408.8 110.7 410.2 115.5 410.6 120.3 410.1 125.1 410.7 129.9 411.4 134.8 409.7 139.6 409.0 144.4 407.0 149.2 401.1 154.0 393.3 158.9 379.9 163.7 360.5 168.5 338.6 173.3 316.5 178.1 299.8 182.9 294.3 187.8 297.0 192.6 303.5 197.4 315.2 202.2 329.1 207.0 344.3 211.8 359.0 216.7 372.0 221.5 383.9 226.3 391.7 231.1 398.7 235.9 401.3 240.8 402.1 245.6 400.5 250.4 398.7 255.2 398.1 260.0 400.0 264.8 401.1 269.7 403.1 274.5 405.3 279.3 407.5 284.1 408.6 288.9 410.5 293.7 410.3 298.6 410.5 303.4 410.7 308.2 410.8 313.0 411.1 317.8 410.1 322.7 412.4 327.5 412.1 332.3 413.6 337.1 414.9 341.9 415.9 346.7 415.4 351.6 415.4 356.4 416.7 361.2 416.5 366.0 415.9 370.8 416.1 375.7 415.0 380.5 415.6 385.3 414.2 390.1 413.8 394.9 411.0 399.7 411.3 404.6 411.6 409.4 411.2 414.2 412.3 419.0 412.8 423.8 415.1 428.6 415.9 433.5 416.1 438.3 415.9 443.1 416.7 447.9 416.2 452.7 416.4 457.6 416.8 462.4 416.6 467.2 416.5 472.0 416.9 476.8 415.9 481.6 417.1 486.5 415.9 491.3 415.9 496.1 416.4 500.9 416.7 505.7 416.4 510.5 416.0 515.4 415.9 520.2 416.0 525.0 415.7 529.8 416.3 534.6 415.9"/><path d="M52.9 416.8 57.7 415.7 62.5 416.0 67.3 416.2 72.1 415.4 77.0 415.6 81.8 417.2 86.6 415.8 91.4 416.5 96.2 415.3 101.0 414.6 105.9 415.9 110.7 415.6 115.5 415.7 120.3 415.3 125.1 415.2 129.9 414.6 134.8 414.7 139.6 411.4 144.4 408.2 149.2 399.8 154.0 387.3 158.9 370.7 163.7 351.5 168.5 331.6 173.3 316.3 178.1 309.3 182.9 310.4 187.8 317.7 192.6 326.9 197.4 339.4 202.2 353.2 207.0 366.8 211.8 378.7 216.7 389.7 221.5 397.8 226.3 403.6 231.1 406.2 235.9 408.5 240.8 405.5 245.6 403.5 250.4 401.0 255.2 400.5 260.0 401.4 264.8 401.9 269.7 403.8 274.5 405.2 279.3 408.1 284.1 408.3 288.9 409.9 293.7 410.6 298.6 410.7 303.4 410.4 308.2 410.2 313.0 409.9 317.8 410.1 322.7 411.1 327.5 412.8 332.3 413.4 337.1 414.7 341.9 414.9 346.7 414.6 351.6 415.4 356.4 416.0 361.2 416.6 366.0 416.4 370.8 416.4 375.7 414.9 380.5 415.0 385.3 413.6 390.1 412.7 394.9 411.1 399.7 409.5 404.6 410.0 409.4 410.3 414.2 411.6 419.0 412.2 423.8 414.3 428.6 415.2 433.5 415.9 438.3 416.2 443.1 415.5 447.9 414.6 452.7 416.3 457.6 415.4 462.4 415.8 467.2 416.4 472.0 416.1 476.8 416.1 481.6 416.3 486.5 415.2 491.3 416.9 496.1 415.9 500.9 416.0 505.7 416.4 510.5 416.1 515.4 415.8 520.2 416.2 525.0 416.1 529.8 416.0 534.6 417.3"/><path d="M52.9 401.3 57.7 401.3 62.5 402.2 67.3 402.5 72.1 403.9 77.0 403.6 81.8 404.2 86.6 404.5 91.4 404.1 96.2 405.2 101.0 405.2 105.9 406.3 110.7 405.8 115.5 406.0 120.3 406.6 125.1 406.9 129.9 405.7 134.8 406.5 139.6 404.5 144.4 400.4 149.2 392.4 154.0 380.8 158.9 366.3 163.7 348.5 168.5 329.9 173.3 314.2 178.1 307.3 182.9 306.9 187.8 312.8 192.6 323.4 197.4 335.9 202.2 350.2 207.0 364.1 211.8 378.5 216.7 388.7 221.5 398.3 226.3 405.0 231.1 408.6 235.9 410.5 240.8 410.0 245.6 408.4 250.4 406.2 255.2 404.4 260.0 404.4 264.8 405.6 269.7 406.4 274.5 408.4 279.3 409.4 284.1 410.2 288.9 411.4 293.7 411.4 298.6 410.6 303.4 410.3 308.2 410.2 313.0 409.3 317.8 410.0 322.7 410.2 327.5 411.7 332.3 412.8 337.1 413.4 341.9 414.2 346.7 415.0 351.6 415.2 356.4 414.9 361.2 415.0 366.0 414.8 370.8 416.2 375.7 415.5 380.5 415.1 385.3 414.2 390.1 413.7 394.9 412.9 399.7 411.7 404.6 411.8 409.4 412.8 414.2 412.6 419.0 413.9 423.8 415.7 428.6 415.9 433.5 416.9 438.3 416.2 443.1 416.9 447.9 417.1 452.7 416.9 457.6 417.0 462.4 416.5 467.2 416.5 472.0 416.5 476.8 416.7 481.6 418.1 486.5 416.3 491.3 417.2 496.1 416.1 500.9 415.7 505.7 416.0 510.5 416.3 515.4 416.1 520.2 416.0 525.0 416.2 529.8 416.2 534.6 416.3"/><path d="M52.9 407.5 57.7 408.2 62.5 407.9 67.3 408.6 72.1 408.6 77.0 408.9 81.8 408.7 86.6 408.7 91.4 409.1 96.2 409.7 101.0 409.9 105.9 408.9 110.7 410.0 115.5 410.1 120.3 409.5 125.1 409.9 129.9 410.4 134.8 410.8 139.6 408.8 144.4 407.5 149.2 402.7 154.0 394.4 158.9 381.4 163.7 363.0 168.5 341.8 173.3 323.6 178.1 312.8 182.9 312.1 187.8 316.5 192.6 324.2 197.4 335.7 202.2 347.4 207.0 360.5 211.8 372.2 216.7 384.1 221.5 393.8 226.3 400.6 231.1 406.0 235.9 406.6 240.8 405.9 245.6 403.6 250.4 402.0 255.2 401.5 260.0 402.1 264.8 402.9 269.7 403.9 274.5 406.6 279.3 407.9 284.1 409.6 288.9 409.1 293.7 409.6 298.6 409.7 303.4 410.3 308.2 409.4 313.0 409.5 317.8 409.8 322.7 410.7 327.5 411.3 332.3 412.7 337.1 412.9 341.9 413.8 346.7 414.5 351.6 414.7 356.4 415.1 361.2 414.6 366.0 415.1 370.8 414.8 375.7 414.9 380.5 414.9 385.3 413.1 390.1 413.0 394.9 411.2 399.7 410.5 404.6 411.2 409.4 411.3 414.2 412.2 419.0 413.6 423.8 414.9 428.6 414.9 433.5 415.9 438.3 415.8 443.1 416.3 447.9 416.1 452.7 416.6 457.6 416.3 462.4 416.0 467.2 416.3 472.0 416.6 476.8 416.9 481.6 416.4 486.5 416.3 491.3 416.6 496.1 416.9 500.9 416.3 505.7 415.4 510.5 416.7 515.4 416.5 520.2 416.5 525.0 417.9 529.8 416.7 534.6 417.1"/><path d="M52.9 406.4 57.7 407.2 62.5 407.5 67.3 407.3 72.1 407.2 77.0 407.6 81.8 407.4 86.6 408.1 91.4 407.6 96.2 407.2 101.0 406.7 105.9 407.3 110.7 407.6 115.5 407.1 120.3 406.9 125.1 406.3 129.9 405.7 134.8 404.3 139.6 400.5 144.4 394.7 149.2 386.3 154.0 375.5 158.9 363.3 163.7 350.8 168.5 338.8 173.3 331.9 178.1 328.7 182.9 330.9 187.8 336.9 192.6 343.6 197.4 352.9 202.2 363.5 207.0 373.0 211.8 382.3 216.7 391.9 221.5 397.5 226.3 402.8 231.1 406.0 235.9 407.3 240.8 408.0 245.6 407.0 250.4 406.2 255.2 406.0 260.0 406.2 264.8 407.6 269.7 408.4 274.5 408.9 279.3 410.2 284.1 410.9 288.9 412.4 293.7 412.1 298.6 411.8 303.4 411.2 308.2 411.2 313.0 410.5 317.8 411.3 322.7 412.0 327.5 412.9 332.3 413.5 337.1 414.8 341.9 414.7 346.7 415.4 351.6 415.8 356.4 416.0 361.2 415.8 366.0 415.6 370.8 415.6 375.7 415.6 380.5 415.0 385.3 414.6 390.1 413.2 394.9 412.9 399.7 413.1 404.6 411.4 409.4 412.3 414.2 413.7 419.0 414.4 423.8 415.7 428.6 415.0 433.5 416.1 438.3 417.3 443.1 416.3 447.9 416.8 452.7 415.7 457.6 417.0 462.4 417.6 467.2 416.5 472.0 416.6 476.8 416.6 481.6 417.4 486.5 416.2 491.3 415.6 496.1 417.2 500.9 415.8 505.7 416.6 510.5 415.2 515.4 416.0 520.2 416.3 525.0 415.7 529.8 415.9 534.6 416.4"/><path d="M52.9 414.8 57.7 415.3 62.5 415.8 67.3 414.1 72.1 415.1 77.0 415.2 81.8 414.8 86.6 415.6 91.4 415.5 96.2 415.1 101.0 415.0 105.9 414.7 110.7 414.2 115.5 414.9 120.3 414.5 125.1 414.7 129.9 415.7 134.8 415.3 139.6 416.1 144.4 415.4 149.2 415.9 154.0 416.1 158.9 416.2 163.7 413.1 168.5 407.7 173.3 396.0 178.1 380.0 182.9 362.1 187.8 348.4 192.6 347.1 197.4 358.5 202.2 375.3 207.0 393.0 211.8 405.0 216.7 411.2 221.5 414.1 226.3 414.2 231.1 413.0 235.9 409.9 240.8 406.8 245.6 404.2 250.4 400.6 255.2 400.3 260.0 400.5 264.8 401.5 269.7 403.4 274.5 404.4 279.3 407.4 284.1 409.9 288.9 410.2 293.7 412.0 298.6 412.6 303.4 414.2 308.2 412.6 313.0 413.0 317.8 413.2 322.7 413.5 327.5 413.7 332.3 414.9 337.1 414.8 341.9 415.8 346.7 415.8 351.6 415.3 356.4 415.6 361.2 416.4 366.0 415.6 370.8 415.8 375.7 415.9 380.5 415.0 385.3 414.9 390.1 414.8 394.9 413.9 399.7 412.1 404.6 413.4 409.4 412.8 414.2 413.2 419.0 413.8 423.8 415.3 428.6 415.3 433.5 415.4 438.3 415.3 443.1 416.1 447.9 416.4 452.7 415.5 457.6 415.5 462.4 415.9 467.2 416.4 472.0 416.0 476.8 416.1 481.6 415.9 486.5 416.9 491.3 416.3 496.1 416.5 500.9 417.0 505.7 416.4 510.5 416.5 515.4 416.8 520.2 416.5 525.0 417.4 529.8 416.8 534.6 416.6"/><path d="M52.9 412.9 57.7 412.7 62.5 413.8 67.3 414.1 72.1 413.4 77.0 413.4 81.8 412.8 86.6 413.6 91.4 414.3 96.2 413.7 101.0 414.5 105.9 414.9 110.7 413.2 115.5 414.3 120.3 414.2 125.1 414.3 129.9 413.6 134.8 414.0 139.6 413.1 144.4 413.1 149.2 411.5 154.0 407.6 158.9 403.7 163.7 399.1 168.5 393.2 173.3 386.7 178.1 380.8 182.9 374.6 187.8 372.0 192.6 371.7 197.4 373.6 202.2 377.2 207.0 382.7 211.8 388.6 216.7 395.4 221.5 399.8 226.3 402.7 231.1 405.6 235.9 404.6 240.8 400.8 245.6 396.3 250.4 392.6 255.2 392.3 260.0 392.0 264.8 394.5 269.7 396.9 274.5 399.3 279.3 402.7 284.1 404.9 288.9 405.9 293.7 408.3 298.6 409.0 303.4 410.0 308.2 410.0 313.0 410.3 317.8 410.6 322.7 411.6 327.5 412.4 332.3 413.1 337.1 414.3 341.9 415.1 346.7 415.5 351.6 414.9 356.4 415.2 361.2 414.9 366.0 414.9 370.8 415.4 375.7 414.8 380.5 415.3 385.3 412.9 390.1 412.6 394.9 412.3 399.7 412.0 404.6 411.1 409.4 412.5 414.2 412.8 419.0 413.2 423.8 414.5 428.6 415.5 433.5 415.2 438.3 416.3 443.1 415.8 447.9 416.2 452.7 416.3 457.6 415.7 462.4 416.4 467.2 415.0 472.0 416.1 476.8 415.0 481.6 416.3 486.5 415.6 491.3 416.4 496.1 416.4 500.9 415.7 505.7 415.5 510.5 416.3 515.4 415.2 520.2 416.1 525.0 415.7 529.8 415.5 534.6 415.4"/><path d="M52.9 405.8 57.7 404.6 62.5 405.4 67.3 406.2 72.1 406.8 77.0 407.5 81.8 407.6 86.6 407.1 91.4 407.9 96.2 408.6 101.0 408.6 105.9 408.0 110.7 409.2 115.5 409.7 120.3 409.1 125.1 409.7 129.9 410.0 134.8 410.4 139.6 410.8 144.4 410.4 149.2 409.5 154.0 408.2 158.9 405.8 163.7 402.4 168.5 398.1 173.3 392.5 178.1 387.0 182.9 381.6 187.8 376.3 192.6 374.0 197.4 373.9 202.2 375.5 207.0 379.1 211.8 383.1 216.7 387.4 221.5 392.0 226.3 396.7 231.1 399.5 235.9 402.0 240.8 403.1 245.6 402.4 250.4 401.3 255.2 402.9 260.0 403.2 264.8 404.4 269.7 405.9 274.5 408.6 279.3 408.8 284.1 411.0 288.9 412.1 293.7 412.8 298.6 412.7 303.4 413.0 308.2 413.2 313.0 412.8 317.8 413.9 322.7 414.5 327.5 414.2 332.3 414.8 337.1 415.1 341.9 416.4 346.7 415.6 351.6 416.0 356.4 415.5 361.2 416.8 366.0 416.1 370.8 416.2 375.7 416.5 380.5 415.7 385.3 414.3 390.1 414.2 394.9 413.5 399.7 412.1 404.6 411.8 409.4 412.0 414.2 413.5 419.0 414.0 423.8 414.2 428.6 415.5 433.5 415.9 438.3 415.3 443.1 415.1 447.9 416.3 452.7 417.0 457.6 416.5 462.4 416.3 467.2 415.9 472.0 415.5 476.8 415.9 481.6 416.1 486.5 415.8 491.3 416.3 496.1 415.8 500.9 416.1 505.7 414.6 510.5 415.5 515.4 416.2 520.2 416.3 525.0 416.0 529.8 416.6 534.6 416.2"/><path d="M52.9 411.4 57.7 410.8 62.5 411.5 67.3 411.7 72.1 412.1 77.0 412.1 81.8 411.8 86.6 411.9 91.4 411.4 96.2 412.3 101.0 411.7 105.9 412.2 110.7 412.4 115.5 413.4 120.3 413.1 125.1 412.3 129.9 412.0 134.8 412.3 139.6 411.4 144.4 410.8 149.2 409.0 154.0 406.5 158.9 402.2 163.7 398.0 168.5 393.4 173.3 388.6 178.1 384.0 182.9 381.3 187.8 380.8 192.6 380.4 197.4 383.1 202.2 386.5 207.0 390.0 211.8 394.6 216.7 399.4 221.5 403.1 226.3 406.9 231.1 408.9 235.9 410.7 240.8 408.9 245.6 409.5 250.4 407.5 255.2 407.9 260.0 408.3 264.8 408.5 269.7 409.0 274.5 409.7 279.3 410.0 284.1 411.4 288.9 411.6 293.7 412.5 298.6 411.8 303.4 411.9 308.2 412.0 313.0 411.8 317.8 412.1 322.7 412.4 327.5 412.8 332.3 413.8 337.1 414.4 341.9 414.1 346.7 415.5 351.6 415.2 356.4 414.3 361.2 416.4 366.0 415.5 370.8 414.9 375.7 415.9 380.5 413.8 385.3 415.7 390.1 413.4 394.9 412.8 399.7 412.7 404.6 413.1 409.4 413.2 414.2 414.4 419.0 414.4 423.8 416.0 428.6 416.2 433.5 415.9 438.3 417.0 443.1 416.7 447.9 416.4 452.7 417.1 457.6 416.0 462.4 416.4 467.2 417.2 472.0 416.5 476.8 416.9 481.6 416.8 486.5 416.5 491.3 416.8 496.1 416.1 500.9 416.8 505.7 416.1 510.5 416.5 515.4 416.1 520.2 416.8 525.0 416.7 529.8 417.0 534.6 416.2"/><path d="M52.9 416.7 57.7 416.2 62.5 416.6 67.3 417.1 72.1 417.3 77.0 417.0 81.8 417.2 86.6 416.6 91.4 416.8 96.2 417.7 101.0 417.6 105.9 416.7 110.7 417.2 115.5 417.5 120.3 416.8 125.1 417.6 129.9 417.6 134.8 417.7 139.6 418.4 144.4 417.1 149.2 417.8 154.0 417.0 158.9 416.1 163.7 413.4 168.5 410.8 173.3 406.7 178.1 402.5 182.9 396.5 187.8 392.2 192.6 387.7 197.4 386.1 202.2 386.6 207.0 387.0 211.8 390.0 216.7 392.8 221.5 396.1 226.3 399.2 231.1 401.1 235.9 402.5 240.8 404.2 245.6 403.0 250.4 403.1 255.2 403.3 260.0 404.5 264.8 406.4 269.7 407.6 274.5 407.6 279.3 409.5 284.1 411.2 288.9 411.2 293.7 411.9 298.6 412.7 303.4 412.9 308.2 412.5 313.0 411.7 317.8 412.1 322.7 412.6 327.5 412.8 332.3 413.1 337.1 414.8 341.9 414.3 346.7 414.8 351.6 415.1 356.4 414.9 361.2 414.8 366.0 414.9 370.8 415.4 375.7 414.9 380.5 413.6 385.3 414.7 390.1 414.5 394.9 413.2 399.7 412.7 404.6 412.7 409.4 413.6 414.2 413.1 419.0 414.5 423.8 415.2 428.6 415.4 433.5 415.4 438.3 415.2 443.1 415.3 447.9 415.7 452.7 415.3 457.6 415.7 462.4 415.4 467.2 416.5 472.0 416.6 476.8 415.6 481.6 416.7 486.5 416.2 491.3 416.2 496.1 416.4 500.9 416.4 505.7 415.7 510.5 417.5 515.4 416.0 520.2 415.4 525.0 416.5 529.8 416.6 534.6 416.3"/><path d="M52.9 403.2 57.7 404.9 62.5 404.7 67.3 405.3 72.1 405.3 77.0 405.9 81.8 406.1 86.6 407.0 91.4 407.2 96.2 407.9 101.0 408.3 105.9 408.4 110.7 408.8 115.5 409.7 120.3 408.8 125.1 409.6 129.9 410.2 134.8 408.9 139.6 409.5 144.4 408.5 149.2 407.9 154.0 406.5 158.9 404.6 163.7 402.5 168.5 399.1 173.3 394.6 178.1 392.9 182.9 388.8 187.8 386.5 192.6 386.5 197.4 387.5 202.2 387.9 207.0 392.1 211.8 394.6 216.7 399.1 221.5 402.8 226.3 405.6 231.1 407.7 235.9 408.6 240.8 409.1 245.6 408.8 250.4 408.3 255.2 407.8 260.0 408.6 264.8 410.1 269.7 410.7 274.5 411.2 279.3 412.6 284.1 413.3 288.9 414.2 293.7 414.3 298.6 414.3 303.4 414.2 308.2 414.8 313.0 414.0 317.8 415.1 322.7 413.9 327.5 415.2 332.3 415.7 337.1 416.4 341.9 417.6 346.7 416.5 351.6 416.4 356.4 415.6 361.2 417.1 366.0 415.6 370.8 416.6 375.7 416.0 380.5 417.3 385.3 415.9 390.1 415.8 394.9 415.0 399.7 415.0 404.6 415.4 409.4 414.6 414.2 415.0 419.0 415.4 423.8 415.5 428.6 415.6 433.5 416.3 438.3 417.0 443.1 417.1 447.9 415.9 452.7 416.2 457.6 416.5 462.4 416.8 467.2 416.6 472.0 416.6 476.8 416.8 481.6 417.0 486.5 415.7 491.3 416.6 496.1 417.1 500.9 417.4 505.7 417.2 510.5 416.5 515.4 416.5 520.2 417.0 525.0 416.9 529.8 417.1 534.6 417.5"/><path d="M52.9 411.5 57.7 412.1 62.5 411.3 67.3 412.9 72.1 412.8 77.0 412.5 81.8 413.2 86.6 413.9 91.4 413.8 96.2 413.5 101.0 413.6 105.9 413.9 110.7 413.6 115.5 413.7 120.3 414.1 125.1 414.3 129.9 414.3 134.8 413.7 139.6 413.1 144.4 412.8 149.2 411.6 154.0 410.4 158.9 408.9 163.7 406.4 168.5 402.9 173.3 400.3 178.1 397.3 182.9 396.1 187.8 394.7 192.6 394.5 197.4 395.5 202.2 398.0 207.0 400.2 211.8 402.8 216.7 406.1 221.5 408.1 226.3 410.1 231.1 412.5 235.9 412.4 240.8 413.4 245.6 413.0 250.4 412.5 255.2 412.6 260.0 412.3 264.8 412.8 269.7 412.4 274.5 413.3 279.3 413.8 284.1 414.4 288.9 415.2 293.7 414.6 298.6 414.8 303.4 413.8 308.2 414.0 313.0 413.1 317.8 413.7 322.7 414.0 327.5 414.6 332.3 414.9 337.1 415.0 341.9 415.1 346.7 416.0 351.6 415.6 356.4 414.7 361.2 416.0 366.0 416.1 370.8 416.3 375.7 416.6 380.5 415.3 385.3 415.6 390.1 415.3 394.9 414.3 399.7 413.8 404.6 415.3 409.4 414.6 414.2 415.1 419.0 415.6 423.8 415.9 428.6 416.4 433.5 415.8 438.3 416.3 443.1 416.4 447.9 416.0 452.7 416.2 457.6 416.4 462.4 416.4 467.2 415.7 472.0 416.3 476.8 416.6 481.6 416.9 486.5 416.6 491.3 417.0 496.1 416.4 500.9 416.3 505.7 417.4 510.5 416.4 515.4 416.1 520.2 416.3 525.0 416.8 529.8 415.8 534.6 416.7"/><path d="M52.9 403.5 57.7 403.7 62.5 403.5 67.3 403.3 72.1 403.5 77.0 404.2 81.8 405.1 86.6 405.2 91.4 405.5 96.2 405.5 101.0 406.5 105.9 405.9 110.7 405.9 115.5 406.5 120.3 406.5 125.1 407.6 129.9 408.2 134.8 408.3 139.6 407.8 144.4 408.0 149.2 408.8 154.0 407.8 158.9 407.9 163.7 405.8 168.5 404.6 173.3 402.9 178.1 400.0 182.9 398.6 187.8 396.9 192.6 396.2 197.4 395.4 202.2 396.4 207.0 397.8 211.8 399.9 216.7 401.3 221.5 404.4 226.3 406.6 231.1 407.3 235.9 408.3 240.8 409.2 245.6 410.1 250.4 409.5 255.2 409.2 260.0 410.0 264.8 409.9 269.7 411.9 274.5 411.8 279.3 413.1 284.1 412.9 288.9 414.1 293.7 414.0 298.6 415.1 303.4 415.7 308.2 415.7 313.0 415.7 317.8 416.0 322.7 415.1 327.5 415.2 332.3 415.8 337.1 416.5 341.9 416.2 346.7 416.5 351.6 415.6 356.4 416.1 361.2 416.0 366.0 416.4 370.8 417.1 375.7 416.5 380.5 416.5 385.3 415.6 390.1 415.4 394.9 415.5 399.7 415.0 404.6 414.1 409.4 415.3 414.2 415.6 419.0 415.6 423.8 416.2 428.6 416.3 433.5 416.0 438.3 415.5 443.1 417.2 447.9 416.4 452.7 416.4 457.6 416.5 462.4 416.6 467.2 416.7 472.0 416.1 476.8 416.8 481.6 416.7 486.5 416.7 491.3 416.7 496.1 416.8 500.9 416.3 505.7 416.8 510.5 416.8 515.4 416.9 520.2 417.4 525.0 417.3 529.8 417.5 534.6 416.9"/><path d="M52.9 409.4 57.7 409.7 62.5 409.3 67.3 409.3 72.1 410.5 77.0 409.2 81.8 410.1 86.6 410.3 91.4 410.0 96.2 410.6 101.0 411.1 105.9 410.0 110.7 411.7 115.5 411.4 120.3 411.1 125.1 412.2 129.9 411.9 134.8 411.7 139.6 410.8 144.4 412.2 149.2 411.5 154.0 410.6 158.9 410.1 163.7 409.6 168.5 407.6 173.3 406.3 178.1 404.7 182.9 403.2 187.8 402.5 192.6 402.5 197.4 402.9 202.2 404.3 207.0 405.0 211.8 406.2 216.7 408.0 221.5 409.4 226.3 411.3 231.1 411.4 235.9 411.9 240.8 413.2 245.6 412.6 250.4 412.7 255.2 412.0 260.0 412.5 264.8 412.9 269.7 413.3 274.5 413.4 279.3 414.2 284.1 413.6 288.9 414.3 293.7 413.8 298.6 413.9 303.4 413.3 308.2 413.6 313.0 413.0 317.8 414.0 322.7 413.5 327.5 414.1 332.3 414.1 337.1 414.3 341.9 414.0 346.7 415.5 351.6 414.5 356.4 415.4 361.2 414.2 366.0 415.7 370.8 415.3 375.7 415.6 380.5 414.1 385.3 415.4 390.1 414.6 394.9 414.8 399.7 415.3 404.6 414.6 409.4 414.3 414.2 414.9 419.0 414.6 423.8 415.4 428.6 415.4 433.5 415.7 438.3 415.4 443.1 414.7 447.9 415.5 452.7 415.6 457.6 416.0 462.4 416.1 467.2 415.2 472.0 416.4 476.8 416.3 481.6 416.0 486.5 416.2 491.3 415.1 496.1 417.1 500.9 415.9 505.7 415.8 510.5 416.7 515.4 416.5 520.2 416.1 525.0 415.6 529.8 416.8 534.6 417.1"/><path d="M52.9 416.7 57.7 416.4 62.5 417.3 67.3 418.2 72.1 416.5 77.0 417.3 81.8 416.7 86.6 417.3 91.4 417.5 96.2 417.5 101.0 416.7 105.9 416.7 110.7 418.3 115.5 417.8 120.3 416.6 125.1 417.6 129.9 418.1 134.8 417.5 139.6 417.5 144.4 417.6 149.2 417.7 154.0 417.7 158.9 417.8 163.7 417.4 168.5 417.9 173.3 417.7 178.1 417.6 182.9 416.9 187.8 417.3 192.6 417.6 197.4 417.2 202.2 417.3 207.0 417.0 211.8 417.2 216.7 416.6 221.5 416.8 226.3 417.2 231.1 417.1 235.9 416.1 240.8 415.6 245.6 415.2 250.4 415.2 255.2 415.1 260.0 414.2 264.8 414.2 269.7 414.5 274.5 415.8 279.3 415.2 284.1 416.3 288.9 416.2 293.7 416.4 298.6 417.2 303.4 417.2 308.2 417.9 313.0 417.5 317.8 417.9 322.7 416.9 327.5 417.0 332.3 416.6 337.1 416.9 341.9 417.3 346.7 416.9 351.6 417.2 356.4 416.7 361.2 416.8 366.0 417.4 370.8 416.9 375.7 416.8 380.5 416.9 385.3 416.2 390.1 415.7 394.9 416.5 399.7 416.3 404.6 417.1 409.4 416.2 414.2 416.5 419.0 417.4 423.8 416.5 428.6 416.4 433.5 417.1 438.3 416.9 443.1 417.2 447.9 416.4 452.7 417.5 457.6 416.9 462.4 415.9 467.2 416.7 472.0 416.5 476.8 416.8 481.6 417.3 486.5 416.7 491.3 416.5 496.1 417.2 500.9 416.6 505.7 416.1 510.5 416.2 515.4 417.4 520.2 417.1 525.0 417.4 529.8 416.2 534.6 416.4"/><path d="M52.9 413.8 57.7 414.5 62.5 414.7 67.3 414.1 72.1 414.2 77.0 414.6 81.8 414.2 86.6 414.0 91.4 414.2 96.2 414.8 101.0 415.4 105.9 414.6 110.7 414.4 115.5 414.6 120.3 414.7 125.1 414.9 129.9 414.2 134.8 414.6 139.6 414.5 144.4 414.9 149.2 414.7 154.0 414.2 158.9 414.5 163.7 414.4 168.5 413.7 173.3 412.8 178.1 413.1 182.9 412.5 187.8 413.2 192.6 413.4 197.4 414.0 202.2 413.8 207.0 413.2 211.8 413.9 216.7 414.0 221.5 414.2 226.3 414.6 231.1 414.7 235.9 414.4 240.8 414.0 245.6 413.8 250.4 413.6 255.2 413.7 260.0 414.2 264.8 414.1 269.7 414.6 274.5 413.9 279.3 415.6 284.1 414.9 288.9 413.9 293.7 415.4 298.6 415.8 303.4 415.4 308.2 414.9 313.0 415.6 317.8 415.3 322.7 415.6 327.5 415.8 332.3 414.2 337.1 415.7 341.9 416.0 346.7 416.0 351.6 415.6 356.4 415.6 361.2 415.4 366.0 415.7 370.8 416.4 375.7 415.5 380.5 415.9 385.3 415.7 390.1 416.2 394.9 415.6 399.7 415.6 404.6 415.2 409.4 415.9 414.2 415.4 419.0 415.6 423.8 416.3 428.6 416.2 433.5 416.4 438.3 415.6 443.1 417.2 447.9 416.3 452.7 416.9 457.6 416.3 462.4 415.8 467.2 416.5 472.0 416.1 476.8 416.6 481.6 415.3 486.5 415.8 491.3 415.7 496.1 416.9 500.9 416.8 505.7 415.8 510.5 416.4 515.4 416.4 520.2 416.2 525.0 416.9 529.8 416.0 534.6 416.3"/></g>
</g>
<g fill="none" stroke-width="1.7" stroke-dasharray="10 9.5" clip-path="url(#clipAll)">
<path d="M62.50 219.30C63.25 219.13 65.48 218.97 67.00 218.30C68.52 217.63 70.38 216.43 71.60 215.30C72.82 214.17 73.48 212.97 74.30 211.50C75.12 210.03 75.82 209.08 76.50 206.50C77.18 203.92 77.92 199.08 78.40 196.00C78.88 192.92 78.98 191.08 79.40 188.00C79.82 184.92 80.55 180.70 80.90 177.50C81.25 174.30 81.27 171.88 81.50 168.80C81.73 165.72 81.97 162.30 82.30 159.00C82.63 155.70 83.18 152.05 83.50 149.00C83.82 145.95 83.92 144.70 84.20 140.70C84.48 136.70 84.87 130.12 85.20 125.00C85.53 119.88 85.78 115.60 86.20 110.00C86.62 104.40 87.30 96.07 87.70 91.40C88.10 86.73 88.28 85.17 88.60 82.00C88.92 78.83 89.20 74.90 89.60 72.40C90.00 69.90 90.50 68.57 91.00 67.00C91.50 65.43 91.93 64.12 92.60 63.00C93.27 61.88 94.18 61.07 95.00 60.30C95.82 59.53 96.63 58.98 97.50 58.40C98.37 57.82 99.28 57.32 100.20 56.80C101.12 56.28 102.03 55.75 103.00 55.30C103.97 54.85 105.13 54.37 106.00 54.10C106.87 53.83 107.48 53.52 108.20 53.70C108.92 53.88 109.67 54.43 110.30 55.20C110.93 55.97 111.53 57.15 112.00 58.30C112.47 59.45 112.72 60.65 113.10 62.10C113.48 63.55 114.00 65.52 114.30 67.00C114.60 68.48 114.62 68.67 114.90 71.00C115.18 73.33 115.67 77.83 116.00 81.00C116.33 84.17 116.57 86.00 116.90 90.00C117.23 94.00 117.57 99.17 118.00 105.00C118.43 110.83 119.00 119.00 119.50 125.00C120.00 131.00 120.65 136.83 121.00 141.00C121.35 145.17 121.43 147.17 121.60 150.00C121.77 152.83 121.87 155.20 122.00 158.00C122.13 160.80 122.13 163.72 122.40 166.80C122.67 169.88 123.25 173.27 123.60 176.50C123.95 179.73 124.10 183.12 124.50 186.20C124.90 189.28 125.28 191.77 126.00 195.00C126.72 198.23 127.68 202.55 128.80 205.60C129.92 208.65 131.50 211.37 132.70 213.30C133.90 215.23 134.87 216.23 136.00 217.20C137.13 218.17 138.00 218.72 139.50 219.10C141.00 219.48 141.25 219.43 145.00 219.50C148.75 219.57 159.17 219.50 162.00 219.50" stroke="#c01212"/>
<path d="M249.00 219.50C252.50 219.50 265.50 219.55 270.00 219.50C274.50 219.45 274.33 219.53 276.00 219.20C277.67 218.87 278.92 218.37 280.00 217.50C281.08 216.63 281.83 215.17 282.50 214.00C283.17 212.83 283.45 211.75 284.00 210.50C284.55 209.25 285.22 207.97 285.80 206.50C286.38 205.03 286.97 204.45 287.50 201.70C288.03 198.95 288.48 195.05 289.00 190.00C289.52 184.95 290.15 175.90 290.60 171.40C291.05 166.90 291.40 166.07 291.70 163.00C292.00 159.93 292.10 156.20 292.40 153.00C292.70 149.80 293.17 147.02 293.50 143.80C293.83 140.58 294.03 136.92 294.40 133.70C294.77 130.48 295.23 127.72 295.70 124.50C296.17 121.28 296.58 117.62 297.20 114.40C297.82 111.18 298.60 107.30 299.40 105.20C300.20 103.10 301.07 102.53 302.00 101.80C302.93 101.07 303.92 100.87 305.00 100.80C306.08 100.73 307.33 101.03 308.50 101.40C309.67 101.77 310.92 102.22 312.00 103.00C313.08 103.78 314.10 103.90 315.00 106.10C315.90 108.30 316.68 112.98 317.40 116.20C318.12 119.42 318.87 122.02 319.30 125.40C319.73 128.78 319.70 133.12 320.00 136.50C320.30 139.88 320.80 142.48 321.10 145.70C321.40 148.92 321.52 152.75 321.80 155.80C322.08 158.85 322.52 160.68 322.80 164.00C323.08 167.32 323.20 171.78 323.50 175.70C323.80 179.62 324.22 184.45 324.60 187.50C324.98 190.55 325.32 191.63 325.80 194.00C326.28 196.37 326.73 198.70 327.50 201.70C328.27 204.70 329.48 209.70 330.40 212.00C331.32 214.30 331.95 214.52 333.00 215.50C334.05 216.48 335.20 217.27 336.70 217.90C338.20 218.53 339.78 219.03 342.00 219.30C344.22 219.57 344.50 219.47 350.00 219.50C355.50 219.53 370.83 219.50 375.00 219.50" stroke="#c01212"/>
<path d="M94.40 219.50C96.17 219.50 101.73 219.53 105.00 219.50C108.27 219.47 111.00 219.62 114.00 219.30C117.00 218.98 119.93 218.45 123.00 217.60C126.07 216.75 129.85 215.68 132.40 214.20C134.95 212.72 136.33 210.85 138.30 208.70C140.27 206.55 142.47 204.50 144.20 201.30C145.93 198.10 147.57 193.45 148.70 189.50C149.83 185.55 150.02 181.55 151.00 177.60C151.98 173.65 153.52 170.23 154.60 165.80C155.68 161.37 156.27 155.68 157.50 151.00C158.73 146.32 160.75 142.13 162.00 137.70C163.25 133.27 163.77 129.08 165.00 124.40C166.23 119.72 168.18 113.30 169.40 109.60C170.62 105.90 171.28 104.22 172.30 102.20C173.32 100.18 174.50 98.73 175.50 97.50C176.50 96.27 177.10 95.62 178.30 94.80C179.50 93.98 180.48 93.00 182.70 92.60C184.92 92.20 185.38 92.43 191.60 92.40C197.82 92.37 210.27 92.40 220.00 92.40C229.73 92.40 244.00 92.22 250.00 92.40C256.00 92.58 254.33 92.98 256.00 93.50C257.67 94.02 258.67 94.58 260.00 95.50C261.33 96.42 262.67 97.67 264.00 99.00C265.33 100.33 266.70 101.85 268.00 103.50C269.30 105.15 270.55 106.47 271.80 108.90C273.05 111.33 274.52 115.03 275.50 118.10C276.48 121.17 276.78 124.23 277.70 127.30C278.62 130.37 280.13 133.28 281.00 136.50C281.87 139.72 282.13 143.53 282.90 146.60C283.67 149.67 284.68 151.83 285.60 154.90C286.52 157.97 287.48 161.95 288.40 165.00C289.32 168.05 290.13 169.87 291.10 173.20C292.07 176.53 293.13 181.85 294.20 185.00C295.27 188.15 296.25 189.39 297.50 192.10C298.75 194.81 300.03 198.47 301.70 201.25C303.37 204.03 305.78 206.76 307.50 208.75C309.22 210.74 310.58 212.07 312.00 213.20C313.42 214.32 314.67 214.82 316.00 215.50C317.33 216.18 318.50 216.78 320.00 217.30C321.50 217.82 323.00 218.27 325.00 218.60C327.00 218.93 329.50 219.15 332.00 219.30C334.50 219.45 331.67 219.47 340.00 219.50C348.33 219.53 375.00 219.50 382.00 219.50" stroke="#10109c"/>
<path d="M267.00 219.50C272.50 219.50 293.83 219.62 300.00 219.50C306.17 219.38 302.83 219.15 304.00 218.80C305.17 218.45 305.83 217.93 307.00 217.40C308.17 216.87 309.53 216.13 311.00 215.60C312.47 215.07 314.30 214.67 315.80 214.20C317.30 213.73 318.60 213.50 320.00 212.80C321.40 212.10 323.03 211.05 324.20 210.00C325.37 208.95 326.03 207.75 327.00 206.50C327.97 205.25 328.95 204.70 330.00 202.50C331.05 200.30 332.18 196.22 333.30 193.30C334.42 190.38 335.83 187.55 336.70 185.00C337.57 182.45 337.95 180.83 338.50 178.00C339.05 175.17 339.45 171.00 340.00 168.00C340.55 165.00 341.30 163.83 341.80 160.00C342.30 156.17 342.53 149.00 343.00 145.00C343.47 141.00 344.10 139.50 344.60 136.00C345.10 132.50 345.60 127.22 346.00 124.00C346.40 120.78 346.67 119.45 347.00 116.70C347.33 113.95 347.68 110.72 348.00 107.50C348.32 104.28 348.45 100.62 348.90 97.40C349.35 94.18 350.18 91.43 350.70 88.20C351.22 84.97 351.45 81.20 352.00 78.00C352.55 74.80 353.30 72.18 354.00 69.00C354.70 65.82 355.45 61.23 356.20 58.90C356.95 56.57 357.58 56.23 358.50 55.00C359.42 53.77 360.45 52.17 361.70 51.50C362.95 50.83 364.45 51.00 366.00 51.00C367.55 51.00 368.60 51.63 371.00 51.50C373.40 51.37 377.27 50.50 380.40 50.20C383.53 49.90 386.63 49.80 389.80 49.70C392.97 49.60 396.87 49.72 399.40 49.60C401.93 49.48 403.32 49.23 405.00 49.00C406.68 48.77 408.33 47.87 409.50 48.20C410.67 48.53 411.25 49.70 412.00 51.00C412.75 52.30 413.33 53.50 414.00 56.00C414.67 58.50 415.33 62.67 416.00 66.00C416.67 69.33 417.42 72.83 418.00 76.00C418.58 79.17 419.00 81.83 419.50 85.00C420.00 88.17 420.53 91.83 421.00 95.00C421.47 98.17 421.88 101.17 422.30 104.00C422.72 106.83 423.00 108.33 423.50 112.00C424.00 115.67 424.63 120.83 425.30 126.00C425.97 131.17 426.80 137.67 427.50 143.00C428.20 148.33 428.82 153.33 429.50 158.00C430.18 162.67 430.93 167.07 431.60 171.00C432.27 174.93 432.80 178.27 433.50 181.60C434.20 184.93 434.83 188.18 435.80 191.00C436.77 193.82 437.73 195.77 439.30 198.50C440.87 201.23 443.08 204.93 445.20 207.40C447.32 209.87 449.45 211.73 452.00 213.30C454.55 214.87 457.25 215.93 460.50 216.80C463.75 217.67 468.25 218.10 471.50 218.50C474.75 218.90 476.92 219.03 480.00 219.20C483.08 219.37 482.33 219.45 490.00 219.50C497.67 219.55 520.00 219.50 526.00 219.50" stroke="#10109c"/>
<path d="M62.50 431.30C63.25 431.13 65.48 430.97 67.00 430.30C68.52 429.63 70.38 428.43 71.60 427.30C72.82 426.17 73.48 424.97 74.30 423.50C75.12 422.03 75.82 421.08 76.50 418.50C77.18 415.92 77.92 411.08 78.40 408.00C78.88 404.92 78.98 403.08 79.40 400.00C79.82 396.92 80.55 392.70 80.90 389.50C81.25 386.30 81.27 383.88 81.50 380.80C81.73 377.72 81.97 374.30 82.30 371.00C82.63 367.70 83.18 364.05 83.50 361.00C83.82 357.95 83.92 356.70 84.20 352.70C84.48 348.70 84.87 342.12 85.20 337.00C85.53 331.88 85.78 327.60 86.20 322.00C86.62 316.40 87.30 308.07 87.70 303.40C88.10 298.73 88.28 297.17 88.60 294.00C88.92 290.83 89.20 286.90 89.60 284.40C90.00 281.90 90.50 280.57 91.00 279.00C91.50 277.43 91.93 276.12 92.60 275.00C93.27 273.88 94.18 273.07 95.00 272.30C95.82 271.53 96.63 270.98 97.50 270.40C98.37 269.82 99.28 269.32 100.20 268.80C101.12 268.28 102.03 267.75 103.00 267.30C103.97 266.85 105.13 266.37 106.00 266.10C106.87 265.83 107.48 265.52 108.20 265.70C108.92 265.88 109.67 266.43 110.30 267.20C110.93 267.97 111.53 269.15 112.00 270.30C112.47 271.45 112.72 272.65 113.10 274.10C113.48 275.55 114.00 277.52 114.30 279.00C114.60 280.48 114.62 280.67 114.90 283.00C115.18 285.33 115.67 289.83 116.00 293.00C116.33 296.17 116.57 298.00 116.90 302.00C117.23 306.00 117.57 311.17 118.00 317.00C118.43 322.83 119.00 331.00 119.50 337.00C120.00 343.00 120.65 348.83 121.00 353.00C121.35 357.17 121.43 359.17 121.60 362.00C121.77 364.83 121.87 367.20 122.00 370.00C122.13 372.80 122.13 375.72 122.40 378.80C122.67 381.88 123.25 385.27 123.60 388.50C123.95 391.73 124.10 395.12 124.50 398.20C124.90 401.28 125.28 403.77 126.00 407.00C126.72 410.23 127.68 414.55 128.80 417.60C129.92 420.65 131.50 423.37 132.70 425.30C133.90 427.23 134.87 428.23 136.00 429.20C137.13 430.17 138.00 430.72 139.50 431.10C141.00 431.48 141.25 431.43 145.00 431.50C148.75 431.57 159.17 431.50 162.00 431.50" stroke="#c01212"/>
<path d="M249.00 431.50C252.50 431.50 265.50 431.55 270.00 431.50C274.50 431.45 274.33 431.53 276.00 431.20C277.67 430.87 278.92 430.37 280.00 429.50C281.08 428.63 281.83 427.17 282.50 426.00C283.17 424.83 283.45 423.75 284.00 422.50C284.55 421.25 285.22 419.97 285.80 418.50C286.38 417.03 286.97 416.45 287.50 413.70C288.03 410.95 288.48 407.05 289.00 402.00C289.52 396.95 290.15 387.90 290.60 383.40C291.05 378.90 291.40 378.07 291.70 375.00C292.00 371.93 292.10 368.20 292.40 365.00C292.70 361.80 293.17 359.02 293.50 355.80C293.83 352.58 294.03 348.92 294.40 345.70C294.77 342.48 295.23 339.72 295.70 336.50C296.17 333.28 296.58 329.62 297.20 326.40C297.82 323.18 298.60 319.30 299.40 317.20C300.20 315.10 301.07 314.53 302.00 313.80C302.93 313.07 303.92 312.87 305.00 312.80C306.08 312.73 307.33 313.03 308.50 313.40C309.67 313.77 310.92 314.22 312.00 315.00C313.08 315.78 314.10 315.90 315.00 318.10C315.90 320.30 316.68 324.98 317.40 328.20C318.12 331.42 318.87 334.02 319.30 337.40C319.73 340.78 319.70 345.12 320.00 348.50C320.30 351.88 320.80 354.48 321.10 357.70C321.40 360.92 321.52 364.75 321.80 367.80C322.08 370.85 322.52 372.68 322.80 376.00C323.08 379.32 323.20 383.78 323.50 387.70C323.80 391.62 324.22 396.45 324.60 399.50C324.98 402.55 325.32 403.63 325.80 406.00C326.28 408.37 326.73 410.70 327.50 413.70C328.27 416.70 329.48 421.70 330.40 424.00C331.32 426.30 331.95 426.52 333.00 427.50C334.05 428.48 335.20 429.27 336.70 429.90C338.20 430.53 339.78 431.03 342.00 431.30C344.22 431.57 344.50 431.47 350.00 431.50C355.50 431.53 370.83 431.50 375.00 431.50" stroke="#c01212"/>
<path d="M94.40 431.50C96.17 431.50 101.73 431.53 105.00 431.50C108.27 431.47 111.00 431.62 114.00 431.30C117.00 430.98 119.93 430.45 123.00 429.60C126.07 428.75 129.85 427.68 132.40 426.20C134.95 424.72 136.33 422.85 138.30 420.70C140.27 418.55 142.47 416.50 144.20 413.30C145.93 410.10 147.57 405.45 148.70 401.50C149.83 397.55 150.02 393.55 151.00 389.60C151.98 385.65 153.52 382.23 154.60 377.80C155.68 373.37 156.27 367.68 157.50 363.00C158.73 358.32 160.75 354.13 162.00 349.70C163.25 345.27 163.77 341.08 165.00 336.40C166.23 331.72 168.18 325.30 169.40 321.60C170.62 317.90 171.28 316.22 172.30 314.20C173.32 312.18 174.50 310.73 175.50 309.50C176.50 308.27 177.10 307.62 178.30 306.80C179.50 305.98 180.48 305.00 182.70 304.60C184.92 304.20 185.38 304.43 191.60 304.40C197.82 304.37 210.27 304.40 220.00 304.40C229.73 304.40 244.00 304.22 250.00 304.40C256.00 304.58 254.33 304.98 256.00 305.50C257.67 306.02 258.67 306.58 260.00 307.50C261.33 308.42 262.67 309.67 264.00 311.00C265.33 312.33 266.70 313.85 268.00 315.50C269.30 317.15 270.55 318.47 271.80 320.90C273.05 323.33 274.52 327.03 275.50 330.10C276.48 333.17 276.78 336.23 277.70 339.30C278.62 342.37 280.13 345.28 281.00 348.50C281.87 351.72 282.13 355.53 282.90 358.60C283.67 361.67 284.68 363.83 285.60 366.90C286.52 369.97 287.48 373.95 288.40 377.00C289.32 380.05 290.13 381.87 291.10 385.20C292.07 388.53 293.13 393.85 294.20 397.00C295.27 400.15 296.25 401.39 297.50 404.10C298.75 406.81 300.03 410.48 301.70 413.25C303.37 416.02 305.78 418.76 307.50 420.75C309.22 422.74 310.58 424.07 312.00 425.20C313.42 426.32 314.67 426.82 316.00 427.50C317.33 428.18 318.50 428.78 320.00 429.30C321.50 429.82 323.00 430.27 325.00 430.60C327.00 430.93 329.50 431.15 332.00 431.30C334.50 431.45 331.67 431.47 340.00 431.50C348.33 431.53 375.00 431.50 382.00 431.50" stroke="#10109c"/>
<path d="M267.00 431.50C272.50 431.50 293.83 431.62 300.00 431.50C306.17 431.38 302.83 431.15 304.00 430.80C305.17 430.45 305.83 429.93 307.00 429.40C308.17 428.87 309.53 428.13 311.00 427.60C312.47 427.07 314.30 426.67 315.80 426.20C317.30 425.73 318.60 425.50 320.00 424.80C321.40 424.10 323.03 423.05 324.20 422.00C325.37 420.95 326.03 419.75 327.00 418.50C327.97 417.25 328.95 416.70 330.00 414.50C331.05 412.30 332.18 408.22 333.30 405.30C334.42 402.38 335.83 399.55 336.70 397.00C337.57 394.45 337.95 392.83 338.50 390.00C339.05 387.17 339.45 383.00 340.00 380.00C340.55 377.00 341.30 375.83 341.80 372.00C342.30 368.17 342.53 361.00 343.00 357.00C343.47 353.00 344.10 351.50 344.60 348.00C345.10 344.50 345.60 339.22 346.00 336.00C346.40 332.78 346.67 331.45 347.00 328.70C347.33 325.95 347.68 322.72 348.00 319.50C348.32 316.28 348.45 312.62 348.90 309.40C349.35 306.18 350.18 303.43 350.70 300.20C351.22 296.97 351.45 293.20 352.00 290.00C352.55 286.80 353.30 284.18 354.00 281.00C354.70 277.82 355.45 273.23 356.20 270.90C356.95 268.57 357.58 268.23 358.50 267.00C359.42 265.77 360.45 264.17 361.70 263.50C362.95 262.83 364.45 263.00 366.00 263.00C367.55 263.00 368.60 263.63 371.00 263.50C373.40 263.37 377.27 262.50 380.40 262.20C383.53 261.90 386.63 261.80 389.80 261.70C392.97 261.60 396.87 261.72 399.40 261.60C401.93 261.48 403.32 261.23 405.00 261.00C406.68 260.77 408.33 259.87 409.50 260.20C410.67 260.53 411.25 261.70 412.00 263.00C412.75 264.30 413.33 265.50 414.00 268.00C414.67 270.50 415.33 274.67 416.00 278.00C416.67 281.33 417.42 284.83 418.00 288.00C418.58 291.17 419.00 293.83 419.50 297.00C420.00 300.17 420.53 303.83 421.00 307.00C421.47 310.17 421.88 313.17 422.30 316.00C422.72 318.83 423.00 320.33 423.50 324.00C424.00 327.67 424.63 332.83 425.30 338.00C425.97 343.17 426.80 349.67 427.50 355.00C428.20 360.33 428.82 365.33 429.50 370.00C430.18 374.67 430.93 379.07 431.60 383.00C432.27 386.93 432.80 390.27 433.50 393.60C434.20 396.93 434.83 400.18 435.80 403.00C436.77 405.82 437.73 407.77 439.30 410.50C440.87 413.23 443.08 416.93 445.20 419.40C447.32 421.87 449.45 423.73 452.00 425.30C454.55 426.87 457.25 427.93 460.50 428.80C463.75 429.67 468.25 430.10 471.50 430.50C474.75 430.90 476.92 431.03 480.00 431.20C483.08 431.37 482.33 431.45 490.00 431.50C497.67 431.55 520.00 431.50 526.00 431.50" stroke="#10109c"/>
</g>
<text transform="translate(57.30 38.02) scale(1.05 1)" font-size="19.6" text-anchor="end" fill="#000" >4</text>
<text transform="translate(57.30 85.12) scale(1.05 1)" font-size="19.6" text-anchor="end" fill="#000" >3</text>
<text transform="translate(57.30 132.22) scale(1.05 1)" font-size="19.6" text-anchor="end" fill="#000" >2</text>
<text transform="translate(57.30 179.42) scale(1.05 1)" font-size="19.6" text-anchor="end" fill="#000" >1</text>
<text transform="translate(57.30 215.42) scale(1.05 1)" font-size="19.6" text-anchor="end" fill="#000" >0</text>
<text transform="translate(57.30 231.32) scale(1.05 1)" font-size="19.6" text-anchor="end" fill="#000" >14</text>
<text transform="translate(57.30 256.12) scale(1.05 1)" font-size="19.6" text-anchor="end" fill="#000" >12</text>
<text transform="translate(57.30 286.42) scale(1.05 1)" font-size="19.6" text-anchor="end" fill="#000" >10</text>
<text transform="translate(57.30 316.62) scale(1.05 1)" font-size="19.6" text-anchor="end" fill="#000" >8</text>
<text transform="translate(57.30 347.02) scale(1.05 1)" font-size="19.6" text-anchor="end" fill="#000" >6</text>
<text transform="translate(57.30 377.92) scale(1.05 1)" font-size="19.6" text-anchor="end" fill="#000" >4</text>
<text transform="translate(57.30 408.22) scale(1.05 1)" font-size="19.6" text-anchor="end" fill="#000" >2</text>
<text transform="translate(57.30 431.02) scale(1.05 1)" font-size="19.6" text-anchor="end" fill="#000" >0</text>
<text x="531.50" y="20.40" font-size="22.9" text-anchor="start" fill="#000" >1.0</text>
<text x="531.50" y="57.40" font-size="22.9" text-anchor="start" fill="#000" >0.8</text>
<text x="531.50" y="99.70" font-size="22.9" text-anchor="start" fill="#000" >0.6</text>
<text x="531.50" y="142.10" font-size="22.9" text-anchor="start" fill="#000" >0.4</text>
<text x="531.50" y="184.60" font-size="22.9" text-anchor="start" fill="#000" >0.2</text>
<text x="531.50" y="216.90" font-size="22.9" text-anchor="start" fill="#000" >0.0</text>
<text x="531.50" y="235.20" font-size="22.9" text-anchor="start" fill="#000" >1.0</text>
<text x="531.50" y="269.40" font-size="22.9" text-anchor="start" fill="#000" >0.8</text>
<text x="531.50" y="311.80" font-size="22.9" text-anchor="start" fill="#000" >0.6</text>
<text x="531.50" y="354.20" font-size="22.9" text-anchor="start" fill="#000" >0.4</text>
<text x="531.50" y="396.60" font-size="22.9" text-anchor="start" fill="#000" >0.2</text>
<text x="531.50" y="431.20" font-size="22.9" text-anchor="start" fill="#000" >0.0</text>
<text transform="translate(139.58 456.80) scale(1.05 1)" font-size="19.6" text-anchor="middle" fill="#000" >2.05</text>
<text transform="translate(235.94 456.80) scale(1.05 1)" font-size="19.6" text-anchor="middle" fill="#000" >2.10</text>
<text transform="translate(332.29 456.80) scale(1.05 1)" font-size="19.6" text-anchor="middle" fill="#000" >2.15</text>
<text transform="translate(428.65 456.80) scale(1.05 1)" font-size="19.6" text-anchor="middle" fill="#000" >2.20</text>
<text transform="translate(525.00 456.80) scale(1.05 1)" font-size="19.6" text-anchor="middle" fill="#000" >2.25</text>
<text x="0" y="0" font-size="22.6" text-anchor="middle" transform="translate(19.3 243.6) rotate(-90)">Normalized Flux</text>
<text x="0" y="0" font-size="22.4" text-anchor="middle" transform="translate(580.4 244.2) rotate(90)">Filter Response</text>
<text x="296.3" y="482.5" font-size="22.6" text-anchor="middle">Wavelength (&#181;m)</text>
<text x="457" y="95.6" font-size="23" text-anchor="start">WNs</text>
<text x="457" y="293.6" font-size="23" text-anchor="start">WCs</text>
<text x="71" y="255.3" font-size="14.4" fill="#cc1111">WRCont1</text>
<text x="209.2" y="293.7" font-size="14.4" fill="#1a1ab4">WC</text>
<text x="276" y="302.5" font-size="14.4" fill="#cc1111">WRCont2</text>
<text x="372.5" y="249.3" font-size="14.4" fill="#1a1ab4">WN</text>
</svg>
</body></html>
